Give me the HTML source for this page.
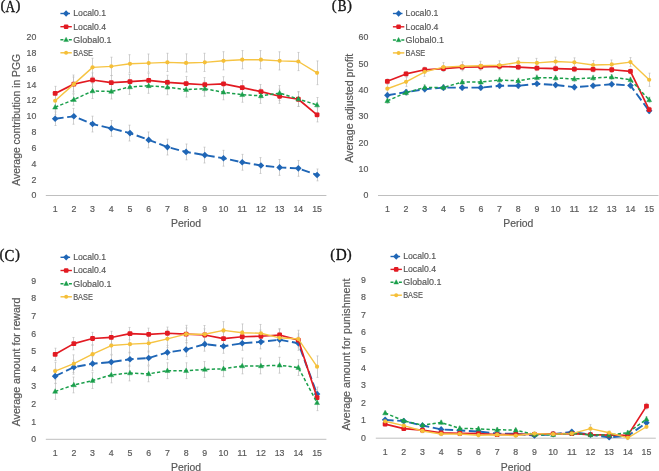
<!DOCTYPE html><html><head><meta charset="utf-8"><style>html,body{margin:0;padding:0;background:#fff;overflow:hidden}svg{display:block;will-change:transform}.t{font-family:"Liberation Sans",sans-serif;fill:#595959;stroke:#595959;stroke-width:0.2px}</style></head><body>
<svg width="659" height="471" viewBox="0 0 659 471">
<rect width="659" height="471" fill="#fff"/>
<text x="0.55" y="10.1" font-family='"Liberation Serif", serif' font-size="14.8" fill="#1a1a1a" stroke="#1a1a1a" stroke-width="0.35">(</text>
<text x="15.4" y="10.1" font-family='"Liberation Serif", serif' font-size="14.8" fill="#1a1a1a" stroke="#1a1a1a" stroke-width="0.35">)</text>
<text x="10.4" y="11.6" text-anchor="middle" font-family='"Liberation Serif", serif' font-size="16.5" fill="#111" stroke="#111" stroke-width="0.35" textLength="9.6" lengthAdjust="spacingAndGlyphs">A</text>
<text x="36.3" y="198.4" text-anchor="end" class="t" font-size="9.8" textLength="4.9" lengthAdjust="spacingAndGlyphs">0</text>
<text x="36.3" y="182.58" text-anchor="end" class="t" font-size="9.8" textLength="4.9" lengthAdjust="spacingAndGlyphs">2</text>
<text x="36.3" y="166.76" text-anchor="end" class="t" font-size="9.8" textLength="4.9" lengthAdjust="spacingAndGlyphs">4</text>
<text x="36.3" y="150.94" text-anchor="end" class="t" font-size="9.8" textLength="4.9" lengthAdjust="spacingAndGlyphs">6</text>
<text x="36.3" y="135.12" text-anchor="end" class="t" font-size="9.8" textLength="4.9" lengthAdjust="spacingAndGlyphs">8</text>
<text x="36.3" y="119.3" text-anchor="end" class="t" font-size="9.8" textLength="9.8" lengthAdjust="spacingAndGlyphs">10</text>
<text x="36.3" y="103.48" text-anchor="end" class="t" font-size="9.8" textLength="9.8" lengthAdjust="spacingAndGlyphs">12</text>
<text x="36.3" y="87.66" text-anchor="end" class="t" font-size="9.8" textLength="9.8" lengthAdjust="spacingAndGlyphs">14</text>
<text x="36.3" y="71.84" text-anchor="end" class="t" font-size="9.8" textLength="9.8" lengthAdjust="spacingAndGlyphs">16</text>
<text x="36.3" y="56.02" text-anchor="end" class="t" font-size="9.8" textLength="9.8" lengthAdjust="spacingAndGlyphs">18</text>
<text x="36.3" y="40.2" text-anchor="end" class="t" font-size="9.8" textLength="9.8" lengthAdjust="spacingAndGlyphs">20</text>
<line x1="45.8" y1="195.5" x2="326.4" y2="195.5" stroke="#bfbfbf" stroke-width="1"/>
<text x="55.15" y="211.5" text-anchor="middle" class="t" font-size="9.8" textLength="4.9" lengthAdjust="spacingAndGlyphs">1</text>
<text x="73.86" y="211.5" text-anchor="middle" class="t" font-size="9.8" textLength="4.9" lengthAdjust="spacingAndGlyphs">2</text>
<text x="92.57" y="211.5" text-anchor="middle" class="t" font-size="9.8" textLength="4.9" lengthAdjust="spacingAndGlyphs">3</text>
<text x="111.27" y="211.5" text-anchor="middle" class="t" font-size="9.8" textLength="4.9" lengthAdjust="spacingAndGlyphs">4</text>
<text x="129.98" y="211.5" text-anchor="middle" class="t" font-size="9.8" textLength="4.9" lengthAdjust="spacingAndGlyphs">5</text>
<text x="148.69" y="211.5" text-anchor="middle" class="t" font-size="9.8" textLength="4.9" lengthAdjust="spacingAndGlyphs">6</text>
<text x="167.39" y="211.5" text-anchor="middle" class="t" font-size="9.8" textLength="4.9" lengthAdjust="spacingAndGlyphs">7</text>
<text x="186.1" y="211.5" text-anchor="middle" class="t" font-size="9.8" textLength="4.9" lengthAdjust="spacingAndGlyphs">8</text>
<text x="204.81" y="211.5" text-anchor="middle" class="t" font-size="9.8" textLength="4.9" lengthAdjust="spacingAndGlyphs">9</text>
<text x="223.51" y="211.5" text-anchor="middle" class="t" font-size="9.8" textLength="9.8" lengthAdjust="spacingAndGlyphs">10</text>
<text x="242.22" y="211.5" text-anchor="middle" class="t" font-size="9.8" textLength="9.8" lengthAdjust="spacingAndGlyphs">11</text>
<text x="260.93" y="211.5" text-anchor="middle" class="t" font-size="9.8" textLength="9.8" lengthAdjust="spacingAndGlyphs">12</text>
<text x="279.63" y="211.5" text-anchor="middle" class="t" font-size="9.8" textLength="9.8" lengthAdjust="spacingAndGlyphs">13</text>
<text x="298.34" y="211.5" text-anchor="middle" class="t" font-size="9.8" textLength="9.8" lengthAdjust="spacingAndGlyphs">14</text>
<text x="317.05" y="211.5" text-anchor="middle" class="t" font-size="9.8" textLength="9.8" lengthAdjust="spacingAndGlyphs">15</text>
<text x="186.1" y="227.2" text-anchor="middle" class="t" font-size="10" textLength="30" lengthAdjust="spacingAndGlyphs">Period</text>
<text transform="translate(19.6 119.8) rotate(-90)" x="0" y="0" text-anchor="middle" class="t" font-size="10" textLength="132" lengthAdjust="spacingAndGlyphs">Average contribution in PGG</text>
<path d="M55.5 111.89V125.5M54.5 111.89H56.5M54.5 125.5H56.5" stroke="#bcbcbc" stroke-width="0.7" fill="none"/>
<path d="M73.5 108.41V124.23M72.5 108.41H74.5M72.5 124.23H74.5" stroke="#bcbcbc" stroke-width="0.7" fill="none"/>
<path d="M92.5 116.16V131.98M91.5 116.16H93.5M91.5 131.98H93.5" stroke="#bcbcbc" stroke-width="0.7" fill="none"/>
<path d="M111.5 120.51V136.33M110.5 120.51H112.5M110.5 136.33H112.5" stroke="#bcbcbc" stroke-width="0.7" fill="none"/>
<path d="M129.5 125.18V141M128.5 125.18H130.5M128.5 141H130.5" stroke="#bcbcbc" stroke-width="0.7" fill="none"/>
<path d="M148.5 131.98V147.8M147.5 131.98H149.5M147.5 147.8H149.5" stroke="#bcbcbc" stroke-width="0.7" fill="none"/>
<path d="M167.5 139.18V155M166.5 139.18H168.5M166.5 155H168.5" stroke="#bcbcbc" stroke-width="0.7" fill="none"/>
<path d="M186.5 144.01V159.83M185.5 144.01H187.5M185.5 159.83H187.5" stroke="#bcbcbc" stroke-width="0.7" fill="none"/>
<path d="M204.5 147.17V162.99M203.5 147.17H205.5M203.5 162.99H205.5" stroke="#bcbcbc" stroke-width="0.7" fill="none"/>
<path d="M223.5 150.33V166.15M222.5 150.33H224.5M222.5 166.15H224.5" stroke="#bcbcbc" stroke-width="0.7" fill="none"/>
<path d="M242.5 154.37V170.19M241.5 154.37H243.5M241.5 170.19H243.5" stroke="#bcbcbc" stroke-width="0.7" fill="none"/>
<path d="M260.5 157.61V173.43M259.5 157.61H261.5M259.5 173.43H261.5" stroke="#bcbcbc" stroke-width="0.7" fill="none"/>
<path d="M279.5 159.51V175.33M278.5 159.51H280.5M278.5 175.33H280.5" stroke="#bcbcbc" stroke-width="0.7" fill="none"/>
<path d="M298.5 160.46V176.28M297.5 160.46H299.5M297.5 176.28H299.5" stroke="#bcbcbc" stroke-width="0.7" fill="none"/>
<path d="M317.5 169V180.87M316.5 169H318.5M316.5 180.87H318.5" stroke="#bcbcbc" stroke-width="0.7" fill="none"/>
<path d="M55.5 86.34V100.58M54.5 86.34H56.5M54.5 100.58H56.5" stroke="#bcbcbc" stroke-width="0.7" fill="none"/>
<path d="M73.5 77.01V91.25M72.5 77.01H74.5M72.5 91.25H74.5" stroke="#bcbcbc" stroke-width="0.7" fill="none"/>
<path d="M92.5 72.9V87.13M91.5 72.9H93.5M91.5 87.13H93.5" stroke="#bcbcbc" stroke-width="0.7" fill="none"/>
<path d="M111.5 75.58V89.82M110.5 75.58H112.5M110.5 89.82H112.5" stroke="#bcbcbc" stroke-width="0.7" fill="none"/>
<path d="M129.5 74.48V88.72M128.5 74.48H130.5M128.5 88.72H130.5" stroke="#bcbcbc" stroke-width="0.7" fill="none"/>
<path d="M148.5 73.29V87.53M147.5 73.29H149.5M147.5 87.53H149.5" stroke="#bcbcbc" stroke-width="0.7" fill="none"/>
<path d="M167.5 75.27V89.51M166.5 75.27H168.5M166.5 89.51H168.5" stroke="#bcbcbc" stroke-width="0.7" fill="none"/>
<path d="M186.5 76.45V90.69M185.5 76.45H187.5M185.5 90.69H187.5" stroke="#bcbcbc" stroke-width="0.7" fill="none"/>
<path d="M204.5 77.64V91.88M203.5 77.64H205.5M203.5 91.88H205.5" stroke="#bcbcbc" stroke-width="0.7" fill="none"/>
<path d="M223.5 76.69V90.93M222.5 76.69H224.5M222.5 90.93H224.5" stroke="#bcbcbc" stroke-width="0.7" fill="none"/>
<path d="M242.5 80.57V94.81M241.5 80.57H243.5M241.5 94.81H243.5" stroke="#bcbcbc" stroke-width="0.7" fill="none"/>
<path d="M260.5 84.52V98.76M259.5 84.52H261.5M259.5 98.76H261.5" stroke="#bcbcbc" stroke-width="0.7" fill="none"/>
<path d="M279.5 89.11V103.35M278.5 89.11H280.5M278.5 103.35H280.5" stroke="#bcbcbc" stroke-width="0.7" fill="none"/>
<path d="M298.5 92.12V106.35M297.5 92.12H299.5M297.5 106.35H299.5" stroke="#bcbcbc" stroke-width="0.7" fill="none"/>
<path d="M317.5 107.7V121.94M316.5 107.7H318.5M316.5 121.94H318.5" stroke="#bcbcbc" stroke-width="0.7" fill="none"/>
<path d="M55.5 99.71V114.74M54.5 99.71H56.5M54.5 114.74H56.5" stroke="#bcbcbc" stroke-width="0.7" fill="none"/>
<path d="M73.5 94.09V105.17M72.5 94.09H74.5M72.5 105.17H74.5" stroke="#bcbcbc" stroke-width="0.7" fill="none"/>
<path d="M92.5 83.49V98.52M91.5 83.49H93.5M91.5 98.52H93.5" stroke="#bcbcbc" stroke-width="0.7" fill="none"/>
<path d="M111.5 83.97V99M110.5 83.97H112.5M110.5 99H112.5" stroke="#bcbcbc" stroke-width="0.7" fill="none"/>
<path d="M129.5 79.38V94.41M128.5 79.38H130.5M128.5 94.41H130.5" stroke="#bcbcbc" stroke-width="0.7" fill="none"/>
<path d="M148.5 78.27V93.3M147.5 78.27H149.5M147.5 93.3H149.5" stroke="#bcbcbc" stroke-width="0.7" fill="none"/>
<path d="M167.5 79.7V94.73M166.5 79.7H168.5M166.5 94.73H168.5" stroke="#bcbcbc" stroke-width="0.7" fill="none"/>
<path d="M186.5 82.07V97.1M185.5 82.07H187.5M185.5 97.1H187.5" stroke="#bcbcbc" stroke-width="0.7" fill="none"/>
<path d="M204.5 81.2V96.23M203.5 81.2H205.5M203.5 96.23H205.5" stroke="#bcbcbc" stroke-width="0.7" fill="none"/>
<path d="M223.5 84.76V99.79M222.5 84.76H224.5M222.5 99.79H224.5" stroke="#bcbcbc" stroke-width="0.7" fill="none"/>
<path d="M242.5 87.21V102.24M241.5 87.21H243.5M241.5 102.24H243.5" stroke="#bcbcbc" stroke-width="0.7" fill="none"/>
<path d="M260.5 88.32V103.35M259.5 88.32H261.5M259.5 103.35H261.5" stroke="#bcbcbc" stroke-width="0.7" fill="none"/>
<path d="M279.5 85.55V100.58M278.5 85.55H280.5M278.5 100.58H280.5" stroke="#bcbcbc" stroke-width="0.7" fill="none"/>
<path d="M298.5 91.48V106.51M297.5 91.48H299.5M297.5 106.51H299.5" stroke="#bcbcbc" stroke-width="0.7" fill="none"/>
<path d="M317.5 97.5V112.52M316.5 97.5H318.5M316.5 112.52H318.5" stroke="#bcbcbc" stroke-width="0.7" fill="none"/>
<path d="M55.5 91.64V109.83M54.5 91.64H56.5M54.5 109.83H56.5" stroke="#bcbcbc" stroke-width="0.7" fill="none"/>
<path d="M73.5 75.03V93.22M72.5 75.03H74.5M72.5 93.22H74.5" stroke="#bcbcbc" stroke-width="0.7" fill="none"/>
<path d="M92.5 58.26V76.45M91.5 58.26H93.5M91.5 76.45H93.5" stroke="#bcbcbc" stroke-width="0.7" fill="none"/>
<path d="M111.5 57.23V75.43M110.5 57.23H112.5M110.5 75.43H112.5" stroke="#bcbcbc" stroke-width="0.7" fill="none"/>
<path d="M129.5 54.7V72.9M128.5 54.7H130.5M128.5 72.9H130.5" stroke="#bcbcbc" stroke-width="0.7" fill="none"/>
<path d="M148.5 53.99V72.18M147.5 53.99H149.5M147.5 72.18H149.5" stroke="#bcbcbc" stroke-width="0.7" fill="none"/>
<path d="M167.5 53.28V71.47M166.5 53.28H168.5M166.5 71.47H168.5" stroke="#bcbcbc" stroke-width="0.7" fill="none"/>
<path d="M186.5 53.83V72.02M185.5 53.83H187.5M185.5 72.02H187.5" stroke="#bcbcbc" stroke-width="0.7" fill="none"/>
<path d="M204.5 53.28V71.47M203.5 53.28H205.5M203.5 71.47H205.5" stroke="#bcbcbc" stroke-width="0.7" fill="none"/>
<path d="M223.5 51.7V69.89M222.5 51.7H224.5M222.5 69.89H224.5" stroke="#bcbcbc" stroke-width="0.7" fill="none"/>
<path d="M242.5 50.59V68.78M241.5 50.59H243.5M241.5 68.78H243.5" stroke="#bcbcbc" stroke-width="0.7" fill="none"/>
<path d="M260.5 50.59V68.78M259.5 50.59H261.5M259.5 68.78H261.5" stroke="#bcbcbc" stroke-width="0.7" fill="none"/>
<path d="M279.5 51.78V69.97M278.5 51.78H280.5M278.5 69.97H280.5" stroke="#bcbcbc" stroke-width="0.7" fill="none"/>
<path d="M298.5 52.41V70.6M297.5 52.41H299.5M297.5 70.6H299.5" stroke="#bcbcbc" stroke-width="0.7" fill="none"/>
<path d="M317.5 60.95V84.68M316.5 60.95H318.5M316.5 84.68H318.5" stroke="#bcbcbc" stroke-width="0.7" fill="none"/>
<polyline points="55.15,118.69 73.86,116.32 92.57,124.07 111.27,128.42 129.98,133.09 148.69,139.89 167.39,147.09 186.1,151.92 204.81,155.08 223.51,158.24 242.22,162.28 260.93,165.52 279.63,167.42 298.34,168.37 317.05,174.93" fill="none" stroke="#1f66b6" stroke-width="1.9" stroke-dasharray="8.5 3.6" stroke-linejoin="round"/>
<path d="M55.15 115.39L58.45 118.69L55.15 121.99L51.85 118.69Z" fill="#1f66b6"/>
<path d="M73.86 113.02L77.16 116.32L73.86 119.62L70.56 116.32Z" fill="#1f66b6"/>
<path d="M92.57 120.77L95.87 124.07L92.57 127.37L89.27 124.07Z" fill="#1f66b6"/>
<path d="M111.27 125.12L114.57 128.42L111.27 131.72L107.97 128.42Z" fill="#1f66b6"/>
<path d="M129.98 129.79L133.28 133.09L129.98 136.39L126.68 133.09Z" fill="#1f66b6"/>
<path d="M148.69 136.59L151.99 139.89L148.69 143.19L145.39 139.89Z" fill="#1f66b6"/>
<path d="M167.39 143.79L170.69 147.09L167.39 150.39L164.09 147.09Z" fill="#1f66b6"/>
<path d="M186.1 148.62L189.4 151.92L186.1 155.22L182.8 151.92Z" fill="#1f66b6"/>
<path d="M204.81 151.78L208.11 155.08L204.81 158.38L201.51 155.08Z" fill="#1f66b6"/>
<path d="M223.51 154.94L226.81 158.24L223.51 161.54L220.21 158.24Z" fill="#1f66b6"/>
<path d="M242.22 158.98L245.52 162.28L242.22 165.58L238.92 162.28Z" fill="#1f66b6"/>
<path d="M260.93 162.22L264.23 165.52L260.93 168.82L257.63 165.52Z" fill="#1f66b6"/>
<path d="M279.63 164.12L282.93 167.42L279.63 170.72L276.33 167.42Z" fill="#1f66b6"/>
<path d="M298.34 165.07L301.64 168.37L298.34 171.67L295.04 168.37Z" fill="#1f66b6"/>
<path d="M317.05 171.63L320.35 174.93L317.05 178.23L313.75 174.93Z" fill="#1f66b6"/>
<polyline points="55.15,93.46 73.86,84.13 92.57,80.01 111.27,82.7 129.98,81.6 148.69,80.41 167.39,82.39 186.1,83.57 204.81,84.76 223.51,83.81 242.22,87.69 260.93,91.64 279.63,96.23 298.34,99.24 317.05,114.82" fill="none" stroke="#e21a22" stroke-width="1.7" stroke-linejoin="round"/>
<rect x="52.75" y="91.06" width="4.8" height="4.8" rx="1.1" fill="#e21a22"/>
<rect x="71.46" y="81.73" width="4.8" height="4.8" rx="1.1" fill="#e21a22"/>
<rect x="90.17" y="77.61" width="4.8" height="4.8" rx="1.1" fill="#e21a22"/>
<rect x="108.87" y="80.3" width="4.8" height="4.8" rx="1.1" fill="#e21a22"/>
<rect x="127.58" y="79.2" width="4.8" height="4.8" rx="1.1" fill="#e21a22"/>
<rect x="146.29" y="78.01" width="4.8" height="4.8" rx="1.1" fill="#e21a22"/>
<rect x="164.99" y="79.99" width="4.8" height="4.8" rx="1.1" fill="#e21a22"/>
<rect x="183.7" y="81.17" width="4.8" height="4.8" rx="1.1" fill="#e21a22"/>
<rect x="202.41" y="82.36" width="4.8" height="4.8" rx="1.1" fill="#e21a22"/>
<rect x="221.11" y="81.41" width="4.8" height="4.8" rx="1.1" fill="#e21a22"/>
<rect x="239.82" y="85.29" width="4.8" height="4.8" rx="1.1" fill="#e21a22"/>
<rect x="258.53" y="89.24" width="4.8" height="4.8" rx="1.1" fill="#e21a22"/>
<rect x="277.23" y="93.83" width="4.8" height="4.8" rx="1.1" fill="#e21a22"/>
<rect x="295.94" y="96.84" width="4.8" height="4.8" rx="1.1" fill="#e21a22"/>
<rect x="314.65" y="112.42" width="4.8" height="4.8" rx="1.1" fill="#e21a22"/>
<polyline points="55.15,107.22 73.86,99.63 92.57,91.01 111.27,91.48 129.98,86.9 148.69,85.79 167.39,87.21 186.1,89.59 204.81,88.72 223.51,92.27 242.22,94.73 260.93,95.83 279.63,93.07 298.34,99 317.05,105.01" fill="none" stroke="#1a9f4b" stroke-width="1.5" stroke-dasharray="3.3 2.2" stroke-linejoin="round"/>
<path d="M55.15 104.46L57.65 109.06L52.65 109.06Z" fill="#1a9f4b" stroke="#1a9f4b" stroke-width="0.4" stroke-linejoin="round"/>
<path d="M73.86 96.87L76.36 101.47L71.36 101.47Z" fill="#1a9f4b" stroke="#1a9f4b" stroke-width="0.4" stroke-linejoin="round"/>
<path d="M92.57 88.25L95.07 92.85L90.07 92.85Z" fill="#1a9f4b" stroke="#1a9f4b" stroke-width="0.4" stroke-linejoin="round"/>
<path d="M111.27 88.72L113.77 93.32L108.77 93.32Z" fill="#1a9f4b" stroke="#1a9f4b" stroke-width="0.4" stroke-linejoin="round"/>
<path d="M129.98 84.14L132.48 88.74L127.48 88.74Z" fill="#1a9f4b" stroke="#1a9f4b" stroke-width="0.4" stroke-linejoin="round"/>
<path d="M148.69 83.03L151.19 87.63L146.19 87.63Z" fill="#1a9f4b" stroke="#1a9f4b" stroke-width="0.4" stroke-linejoin="round"/>
<path d="M167.39 84.45L169.89 89.05L164.89 89.05Z" fill="#1a9f4b" stroke="#1a9f4b" stroke-width="0.4" stroke-linejoin="round"/>
<path d="M186.1 86.83L188.6 91.43L183.6 91.43Z" fill="#1a9f4b" stroke="#1a9f4b" stroke-width="0.4" stroke-linejoin="round"/>
<path d="M204.81 85.95L207.31 90.56L202.31 90.56Z" fill="#1a9f4b" stroke="#1a9f4b" stroke-width="0.4" stroke-linejoin="round"/>
<path d="M223.51 89.51L226.01 94.11L221.01 94.11Z" fill="#1a9f4b" stroke="#1a9f4b" stroke-width="0.4" stroke-linejoin="round"/>
<path d="M242.22 91.97L244.72 96.57L239.72 96.57Z" fill="#1a9f4b" stroke="#1a9f4b" stroke-width="0.4" stroke-linejoin="round"/>
<path d="M260.93 93.07L263.43 97.67L258.43 97.67Z" fill="#1a9f4b" stroke="#1a9f4b" stroke-width="0.4" stroke-linejoin="round"/>
<path d="M279.63 90.31L282.13 94.91L277.13 94.91Z" fill="#1a9f4b" stroke="#1a9f4b" stroke-width="0.4" stroke-linejoin="round"/>
<path d="M298.34 96.24L300.84 100.84L295.84 100.84Z" fill="#1a9f4b" stroke="#1a9f4b" stroke-width="0.4" stroke-linejoin="round"/>
<path d="M317.05 102.25L319.55 106.85L314.55 106.85Z" fill="#1a9f4b" stroke="#1a9f4b" stroke-width="0.4" stroke-linejoin="round"/>
<polyline points="55.15,100.74 73.86,84.13 92.57,67.36 111.27,66.33 129.98,63.8 148.69,63.09 167.39,62.37 186.1,62.93 204.81,62.37 223.51,60.79 242.22,59.69 260.93,59.69 279.63,60.87 298.34,61.5 317.05,72.82" fill="none" stroke="#f6c443" stroke-width="1.4" stroke-linejoin="round"/>
<circle cx="55.15" cy="100.74" r="2.1" fill="#f5bf38"/>
<circle cx="73.86" cy="84.13" r="2.1" fill="#f5bf38"/>
<circle cx="92.57" cy="67.36" r="2.1" fill="#f5bf38"/>
<circle cx="111.27" cy="66.33" r="2.1" fill="#f5bf38"/>
<circle cx="129.98" cy="63.8" r="2.1" fill="#f5bf38"/>
<circle cx="148.69" cy="63.09" r="2.1" fill="#f5bf38"/>
<circle cx="167.39" cy="62.37" r="2.1" fill="#f5bf38"/>
<circle cx="186.1" cy="62.93" r="2.1" fill="#f5bf38"/>
<circle cx="204.81" cy="62.37" r="2.1" fill="#f5bf38"/>
<circle cx="223.51" cy="60.79" r="2.1" fill="#f5bf38"/>
<circle cx="242.22" cy="59.69" r="2.1" fill="#f5bf38"/>
<circle cx="260.93" cy="59.69" r="2.1" fill="#f5bf38"/>
<circle cx="279.63" cy="60.87" r="2.1" fill="#f5bf38"/>
<circle cx="298.34" cy="61.5" r="2.1" fill="#f5bf38"/>
<circle cx="317.05" cy="72.82" r="2.1" fill="#f5bf38"/>
<line x1="60.4" y1="13.5" x2="70" y2="13.5" stroke="#1f66b6" stroke-width="1.4"/>
<path d="M66.1 10.37L69.23 13.5L66.1 16.63L62.96 13.5Z" fill="#1f66b6"/>
<text x="73.3" y="16.4" class="t" font-size="9.7" textLength="32.8" lengthAdjust="spacingAndGlyphs">Local0.1</text>
<line x1="60.4" y1="26.7" x2="71.8" y2="26.7" stroke="#e21a22" stroke-width="1.4"/>
<rect x="63.82" y="24.42" width="4.56" height="4.56" rx="1.04" fill="#e21a22"/>
<text x="73.3" y="29.6" class="t" font-size="9.7" textLength="32.8" lengthAdjust="spacingAndGlyphs">Local0.4</text>
<path d="M60.4 39.8H63.4M68.8 39.8H71.8" stroke="#1a9f4b" stroke-width="1.4"/>
<path d="M66.1 37.18L68.47 41.55L63.72 41.55Z" fill="#1a9f4b" stroke="#1a9f4b" stroke-width="0.4" stroke-linejoin="round"/>
<text x="73.3" y="42.7" class="t" font-size="9.7" textLength="38.3" lengthAdjust="spacingAndGlyphs">Global0.1</text>
<line x1="60.4" y1="52.8" x2="71.8" y2="52.8" stroke="#f5bf38" stroke-width="1.4"/>
<circle cx="66.1" cy="52.8" r="1.99" fill="#f5bf38"/>
<text x="73.3" y="55.7" class="t" font-size="9.7" textLength="19.7" lengthAdjust="spacingAndGlyphs">BASE</text>
<text x="331.85" y="10.1" font-family='"Liberation Serif", serif' font-size="14.8" fill="#1a1a1a" stroke="#1a1a1a" stroke-width="0.35">(</text>
<text x="347.1" y="10.1" font-family='"Liberation Serif", serif' font-size="14.8" fill="#1a1a1a" stroke="#1a1a1a" stroke-width="0.35">)</text>
<text x="342.1" y="11" text-anchor="middle" font-family='"Liberation Serif", serif' font-size="16.5" fill="#111" stroke="#111" stroke-width="0.35" textLength="8.8" lengthAdjust="spacingAndGlyphs">B</text>
<text x="368.4" y="198.4" text-anchor="end" class="t" font-size="9.8" textLength="4.9" lengthAdjust="spacingAndGlyphs">0</text>
<text x="368.4" y="172.03" text-anchor="end" class="t" font-size="9.8" textLength="9.8" lengthAdjust="spacingAndGlyphs">10</text>
<text x="368.4" y="145.67" text-anchor="end" class="t" font-size="9.8" textLength="9.8" lengthAdjust="spacingAndGlyphs">20</text>
<text x="368.4" y="119.3" text-anchor="end" class="t" font-size="9.8" textLength="9.8" lengthAdjust="spacingAndGlyphs">30</text>
<text x="368.4" y="92.93" text-anchor="end" class="t" font-size="9.8" textLength="9.8" lengthAdjust="spacingAndGlyphs">40</text>
<text x="368.4" y="66.57" text-anchor="end" class="t" font-size="9.8" textLength="9.8" lengthAdjust="spacingAndGlyphs">50</text>
<text x="368.4" y="40.2" text-anchor="end" class="t" font-size="9.8" textLength="9.8" lengthAdjust="spacingAndGlyphs">60</text>
<line x1="378" y1="195.5" x2="658.5" y2="195.5" stroke="#bfbfbf" stroke-width="1"/>
<text x="387.35" y="211.5" text-anchor="middle" class="t" font-size="9.8" textLength="4.9" lengthAdjust="spacingAndGlyphs">1</text>
<text x="406.05" y="211.5" text-anchor="middle" class="t" font-size="9.8" textLength="4.9" lengthAdjust="spacingAndGlyphs">2</text>
<text x="424.75" y="211.5" text-anchor="middle" class="t" font-size="9.8" textLength="4.9" lengthAdjust="spacingAndGlyphs">3</text>
<text x="443.45" y="211.5" text-anchor="middle" class="t" font-size="9.8" textLength="4.9" lengthAdjust="spacingAndGlyphs">4</text>
<text x="462.15" y="211.5" text-anchor="middle" class="t" font-size="9.8" textLength="4.9" lengthAdjust="spacingAndGlyphs">5</text>
<text x="480.85" y="211.5" text-anchor="middle" class="t" font-size="9.8" textLength="4.9" lengthAdjust="spacingAndGlyphs">6</text>
<text x="499.55" y="211.5" text-anchor="middle" class="t" font-size="9.8" textLength="4.9" lengthAdjust="spacingAndGlyphs">7</text>
<text x="518.25" y="211.5" text-anchor="middle" class="t" font-size="9.8" textLength="4.9" lengthAdjust="spacingAndGlyphs">8</text>
<text x="536.95" y="211.5" text-anchor="middle" class="t" font-size="9.8" textLength="4.9" lengthAdjust="spacingAndGlyphs">9</text>
<text x="555.65" y="211.5" text-anchor="middle" class="t" font-size="9.8" textLength="9.8" lengthAdjust="spacingAndGlyphs">10</text>
<text x="574.35" y="211.5" text-anchor="middle" class="t" font-size="9.8" textLength="9.8" lengthAdjust="spacingAndGlyphs">11</text>
<text x="593.05" y="211.5" text-anchor="middle" class="t" font-size="9.8" textLength="9.8" lengthAdjust="spacingAndGlyphs">12</text>
<text x="611.75" y="211.5" text-anchor="middle" class="t" font-size="9.8" textLength="9.8" lengthAdjust="spacingAndGlyphs">13</text>
<text x="630.45" y="211.5" text-anchor="middle" class="t" font-size="9.8" textLength="9.8" lengthAdjust="spacingAndGlyphs">14</text>
<text x="649.15" y="211.5" text-anchor="middle" class="t" font-size="9.8" textLength="9.8" lengthAdjust="spacingAndGlyphs">15</text>
<text x="518.25" y="227.2" text-anchor="middle" class="t" font-size="10" textLength="30" lengthAdjust="spacingAndGlyphs">Period</text>
<text transform="translate(352.6 108.3) rotate(-90)" x="0" y="0" text-anchor="middle" class="t" font-size="10" textLength="109" lengthAdjust="spacingAndGlyphs">Average adjusted profit</text>
<path d="M387.5 92.67V97.94M386.5 92.67H388.5M386.5 97.94H388.5" stroke="#bcbcbc" stroke-width="0.7" fill="none"/>
<path d="M406.5 89.51V94.78M405.5 89.51H407.5M405.5 94.78H407.5" stroke="#bcbcbc" stroke-width="0.7" fill="none"/>
<path d="M424.5 86.61V91.88M423.5 86.61H425.5M423.5 91.88H425.5" stroke="#bcbcbc" stroke-width="0.7" fill="none"/>
<path d="M443.5 85.02V90.3M442.5 85.02H444.5M442.5 90.3H444.5" stroke="#bcbcbc" stroke-width="0.7" fill="none"/>
<path d="M462.5 85.02V90.3M461.5 85.02H463.5M461.5 90.3H463.5" stroke="#bcbcbc" stroke-width="0.7" fill="none"/>
<path d="M480.5 85.02V90.3M479.5 85.02H481.5M479.5 90.3H481.5" stroke="#bcbcbc" stroke-width="0.7" fill="none"/>
<path d="M499.5 83.18V88.45M498.5 83.18H500.5M498.5 88.45H500.5" stroke="#bcbcbc" stroke-width="0.7" fill="none"/>
<path d="M518.5 83.18V88.45M517.5 83.18H519.5M517.5 88.45H519.5" stroke="#bcbcbc" stroke-width="0.7" fill="none"/>
<path d="M536.5 81.07V86.34M535.5 81.07H537.5M535.5 86.34H537.5" stroke="#bcbcbc" stroke-width="0.7" fill="none"/>
<path d="M555.5 82.39V87.66M554.5 82.39H556.5M554.5 87.66H556.5" stroke="#bcbcbc" stroke-width="0.7" fill="none"/>
<path d="M574.5 84.5V89.77M573.5 84.5H575.5M573.5 89.77H575.5" stroke="#bcbcbc" stroke-width="0.7" fill="none"/>
<path d="M593.5 83.18V88.45M592.5 83.18H594.5M592.5 88.45H594.5" stroke="#bcbcbc" stroke-width="0.7" fill="none"/>
<path d="M611.5 81.6V86.87M610.5 81.6H612.5M610.5 86.87H612.5" stroke="#bcbcbc" stroke-width="0.7" fill="none"/>
<path d="M630.5 82.91V88.19M629.5 82.91H631.5M629.5 88.19H631.5" stroke="#bcbcbc" stroke-width="0.7" fill="none"/>
<path d="M649.5 108.23V113.5M648.5 108.23H650.5M648.5 113.5H650.5" stroke="#bcbcbc" stroke-width="0.7" fill="none"/>
<path d="M387.5 78.83V83.84M386.5 78.83H388.5M386.5 83.84H388.5" stroke="#bcbcbc" stroke-width="0.7" fill="none"/>
<path d="M406.5 71.44V76.45M405.5 71.44H407.5M405.5 76.45H407.5" stroke="#bcbcbc" stroke-width="0.7" fill="none"/>
<path d="M424.5 67.23V72.24M423.5 67.23H425.5M423.5 72.24H425.5" stroke="#bcbcbc" stroke-width="0.7" fill="none"/>
<path d="M443.5 66.17V71.18M442.5 66.17H444.5M442.5 71.18H444.5" stroke="#bcbcbc" stroke-width="0.7" fill="none"/>
<path d="M462.5 64.59V69.6M461.5 64.59H463.5M461.5 69.6H463.5" stroke="#bcbcbc" stroke-width="0.7" fill="none"/>
<path d="M480.5 64.33V69.34M479.5 64.33H481.5M479.5 69.34H481.5" stroke="#bcbcbc" stroke-width="0.7" fill="none"/>
<path d="M499.5 63.8V68.81M498.5 63.8H500.5M498.5 68.81H500.5" stroke="#bcbcbc" stroke-width="0.7" fill="none"/>
<path d="M518.5 64.59V69.6M517.5 64.59H519.5M517.5 69.6H519.5" stroke="#bcbcbc" stroke-width="0.7" fill="none"/>
<path d="M536.5 65.64V70.65M535.5 65.64H537.5M535.5 70.65H537.5" stroke="#bcbcbc" stroke-width="0.7" fill="none"/>
<path d="M555.5 66.17V71.18M554.5 66.17H556.5M554.5 71.18H556.5" stroke="#bcbcbc" stroke-width="0.7" fill="none"/>
<path d="M574.5 66.7V71.71M573.5 66.7H575.5M573.5 71.71H575.5" stroke="#bcbcbc" stroke-width="0.7" fill="none"/>
<path d="M593.5 66.96V71.97M592.5 66.96H594.5M592.5 71.97H594.5" stroke="#bcbcbc" stroke-width="0.7" fill="none"/>
<path d="M611.5 67.23V72.24M610.5 67.23H612.5M610.5 72.24H612.5" stroke="#bcbcbc" stroke-width="0.7" fill="none"/>
<path d="M630.5 68.81V73.82M629.5 68.81H631.5M629.5 73.82H631.5" stroke="#bcbcbc" stroke-width="0.7" fill="none"/>
<path d="M649.5 107.04V112.05M648.5 107.04H650.5M648.5 112.05H650.5" stroke="#bcbcbc" stroke-width="0.7" fill="none"/>
<path d="M387.5 98.21V103.48M386.5 98.21H388.5M386.5 103.48H388.5" stroke="#bcbcbc" stroke-width="0.7" fill="none"/>
<path d="M406.5 90.03V95.31M405.5 90.03H407.5M405.5 95.31H407.5" stroke="#bcbcbc" stroke-width="0.7" fill="none"/>
<path d="M424.5 84.76V90.03M423.5 84.76H425.5M423.5 90.03H425.5" stroke="#bcbcbc" stroke-width="0.7" fill="none"/>
<path d="M443.5 84.76V90.03M442.5 84.76H444.5M442.5 90.03H444.5" stroke="#bcbcbc" stroke-width="0.7" fill="none"/>
<path d="M462.5 79.49V84.76M461.5 79.49H463.5M461.5 84.76H463.5" stroke="#bcbcbc" stroke-width="0.7" fill="none"/>
<path d="M480.5 79.49V84.76M479.5 79.49H481.5M479.5 84.76H481.5" stroke="#bcbcbc" stroke-width="0.7" fill="none"/>
<path d="M499.5 77.38V82.65M498.5 77.38H500.5M498.5 82.65H500.5" stroke="#bcbcbc" stroke-width="0.7" fill="none"/>
<path d="M518.5 78.17V83.44M517.5 78.17H519.5M517.5 83.44H519.5" stroke="#bcbcbc" stroke-width="0.7" fill="none"/>
<path d="M536.5 75V80.28M535.5 75H537.5M535.5 80.28H537.5" stroke="#bcbcbc" stroke-width="0.7" fill="none"/>
<path d="M555.5 75.27V80.54M554.5 75.27H556.5M554.5 80.54H556.5" stroke="#bcbcbc" stroke-width="0.7" fill="none"/>
<path d="M574.5 76.32V81.6M573.5 76.32H575.5M573.5 81.6H575.5" stroke="#bcbcbc" stroke-width="0.7" fill="none"/>
<path d="M593.5 75.27V80.54M592.5 75.27H594.5M592.5 80.54H594.5" stroke="#bcbcbc" stroke-width="0.7" fill="none"/>
<path d="M611.5 74.48V79.75M610.5 74.48H612.5M610.5 79.75H612.5" stroke="#bcbcbc" stroke-width="0.7" fill="none"/>
<path d="M630.5 77.11V82.39M629.5 77.11H631.5M629.5 82.39H631.5" stroke="#bcbcbc" stroke-width="0.7" fill="none"/>
<path d="M649.5 97.15V102.43M648.5 97.15H650.5M648.5 102.43H650.5" stroke="#bcbcbc" stroke-width="0.7" fill="none"/>
<path d="M387.5 84.23V93.2M386.5 84.23H388.5M386.5 93.2H388.5" stroke="#bcbcbc" stroke-width="0.7" fill="none"/>
<path d="M406.5 77.38V86.34M405.5 77.38H407.5M405.5 86.34H407.5" stroke="#bcbcbc" stroke-width="0.7" fill="none"/>
<path d="M424.5 67.36V76.32M423.5 67.36H425.5M423.5 76.32H425.5" stroke="#bcbcbc" stroke-width="0.7" fill="none"/>
<path d="M443.5 62.61V71.58M442.5 62.61H444.5M442.5 71.58H444.5" stroke="#bcbcbc" stroke-width="0.7" fill="none"/>
<path d="M462.5 61.82V70.79M461.5 61.82H463.5M461.5 70.79H463.5" stroke="#bcbcbc" stroke-width="0.7" fill="none"/>
<path d="M480.5 61.29V70.26M479.5 61.29H481.5M479.5 70.26H481.5" stroke="#bcbcbc" stroke-width="0.7" fill="none"/>
<path d="M499.5 60.77V69.73M498.5 60.77H500.5M498.5 69.73H500.5" stroke="#bcbcbc" stroke-width="0.7" fill="none"/>
<path d="M518.5 57.87V66.83M517.5 57.87H519.5M517.5 66.83H519.5" stroke="#bcbcbc" stroke-width="0.7" fill="none"/>
<path d="M536.5 58.39V67.36M535.5 58.39H537.5M535.5 67.36H537.5" stroke="#bcbcbc" stroke-width="0.7" fill="none"/>
<path d="M555.5 57.08V66.04M554.5 57.08H556.5M554.5 66.04H556.5" stroke="#bcbcbc" stroke-width="0.7" fill="none"/>
<path d="M574.5 57.87V66.83M573.5 57.87H575.5M573.5 66.83H575.5" stroke="#bcbcbc" stroke-width="0.7" fill="none"/>
<path d="M593.5 60.5V69.47M592.5 60.5H594.5M592.5 69.47H594.5" stroke="#bcbcbc" stroke-width="0.7" fill="none"/>
<path d="M611.5 59.98V68.94M610.5 59.98H612.5M610.5 68.94H612.5" stroke="#bcbcbc" stroke-width="0.7" fill="none"/>
<path d="M630.5 57.6V66.57M629.5 57.6H631.5M629.5 66.57H631.5" stroke="#bcbcbc" stroke-width="0.7" fill="none"/>
<path d="M649.5 73.16V86.34M648.5 73.16H650.5M648.5 86.34H650.5" stroke="#bcbcbc" stroke-width="0.7" fill="none"/>
<polyline points="387.35,95.31 406.05,92.14 424.75,89.24 443.45,87.66 462.15,87.66 480.85,87.66 499.55,85.81 518.25,85.81 536.95,83.71 555.65,85.02 574.35,87.13 593.05,85.81 611.75,84.23 630.45,85.55 649.15,110.86" fill="none" stroke="#1f66b6" stroke-width="1.9" stroke-dasharray="8.5 3.6" stroke-linejoin="round"/>
<path d="M387.35 92.01L390.65 95.31L387.35 98.61L384.05 95.31Z" fill="#1f66b6"/>
<path d="M406.05 88.84L409.35 92.14L406.05 95.44L402.75 92.14Z" fill="#1f66b6"/>
<path d="M424.75 85.94L428.05 89.24L424.75 92.54L421.45 89.24Z" fill="#1f66b6"/>
<path d="M443.45 84.36L446.75 87.66L443.45 90.96L440.15 87.66Z" fill="#1f66b6"/>
<path d="M462.15 84.36L465.45 87.66L462.15 90.96L458.85 87.66Z" fill="#1f66b6"/>
<path d="M480.85 84.36L484.15 87.66L480.85 90.96L477.55 87.66Z" fill="#1f66b6"/>
<path d="M499.55 82.51L502.85 85.81L499.55 89.11L496.25 85.81Z" fill="#1f66b6"/>
<path d="M518.25 82.51L521.55 85.81L518.25 89.11L514.95 85.81Z" fill="#1f66b6"/>
<path d="M536.95 80.41L540.25 83.71L536.95 87.01L533.65 83.71Z" fill="#1f66b6"/>
<path d="M555.65 81.72L558.95 85.02L555.65 88.32L552.35 85.02Z" fill="#1f66b6"/>
<path d="M574.35 83.83L577.65 87.13L574.35 90.43L571.05 87.13Z" fill="#1f66b6"/>
<path d="M593.05 82.51L596.35 85.81L593.05 89.11L589.75 85.81Z" fill="#1f66b6"/>
<path d="M611.75 80.93L615.05 84.23L611.75 87.53L608.45 84.23Z" fill="#1f66b6"/>
<path d="M630.45 82.25L633.75 85.55L630.45 88.85L627.15 85.55Z" fill="#1f66b6"/>
<path d="M649.15 107.56L652.45 110.86L649.15 114.16L645.85 110.86Z" fill="#1f66b6"/>
<polyline points="387.35,81.33 406.05,73.95 424.75,69.73 443.45,68.68 462.15,67.09 480.85,66.83 499.55,66.3 518.25,67.09 536.95,68.15 555.65,68.68 574.35,69.2 593.05,69.47 611.75,69.73 630.45,71.31 649.15,109.54" fill="none" stroke="#e21a22" stroke-width="1.7" stroke-linejoin="round"/>
<rect x="384.95" y="78.93" width="4.8" height="4.8" rx="1.1" fill="#e21a22"/>
<rect x="403.65" y="71.55" width="4.8" height="4.8" rx="1.1" fill="#e21a22"/>
<rect x="422.35" y="67.33" width="4.8" height="4.8" rx="1.1" fill="#e21a22"/>
<rect x="441.05" y="66.28" width="4.8" height="4.8" rx="1.1" fill="#e21a22"/>
<rect x="459.75" y="64.69" width="4.8" height="4.8" rx="1.1" fill="#e21a22"/>
<rect x="478.45" y="64.43" width="4.8" height="4.8" rx="1.1" fill="#e21a22"/>
<rect x="497.15" y="63.9" width="4.8" height="4.8" rx="1.1" fill="#e21a22"/>
<rect x="515.85" y="64.69" width="4.8" height="4.8" rx="1.1" fill="#e21a22"/>
<rect x="534.55" y="65.75" width="4.8" height="4.8" rx="1.1" fill="#e21a22"/>
<rect x="553.25" y="66.28" width="4.8" height="4.8" rx="1.1" fill="#e21a22"/>
<rect x="571.95" y="66.8" width="4.8" height="4.8" rx="1.1" fill="#e21a22"/>
<rect x="590.65" y="67.07" width="4.8" height="4.8" rx="1.1" fill="#e21a22"/>
<rect x="609.35" y="67.33" width="4.8" height="4.8" rx="1.1" fill="#e21a22"/>
<rect x="628.05" y="68.91" width="4.8" height="4.8" rx="1.1" fill="#e21a22"/>
<rect x="646.75" y="107.14" width="4.8" height="4.8" rx="1.1" fill="#e21a22"/>
<polyline points="387.35,100.84 406.05,92.67 424.75,87.4 443.45,87.4 462.15,82.12 480.85,82.12 499.55,80.01 518.25,80.81 536.95,77.64 555.65,77.9 574.35,78.96 593.05,77.9 611.75,77.11 630.45,79.75 649.15,99.79" fill="none" stroke="#1a9f4b" stroke-width="1.5" stroke-dasharray="3.3 2.2" stroke-linejoin="round"/>
<path d="M387.35 98.08L389.85 102.68L384.85 102.68Z" fill="#1a9f4b" stroke="#1a9f4b" stroke-width="0.4" stroke-linejoin="round"/>
<path d="M406.05 89.91L408.55 94.51L403.55 94.51Z" fill="#1a9f4b" stroke="#1a9f4b" stroke-width="0.4" stroke-linejoin="round"/>
<path d="M424.75 84.64L427.25 89.24L422.25 89.24Z" fill="#1a9f4b" stroke="#1a9f4b" stroke-width="0.4" stroke-linejoin="round"/>
<path d="M443.45 84.64L445.95 89.24L440.95 89.24Z" fill="#1a9f4b" stroke="#1a9f4b" stroke-width="0.4" stroke-linejoin="round"/>
<path d="M462.15 79.36L464.65 83.96L459.65 83.96Z" fill="#1a9f4b" stroke="#1a9f4b" stroke-width="0.4" stroke-linejoin="round"/>
<path d="M480.85 79.36L483.35 83.96L478.35 83.96Z" fill="#1a9f4b" stroke="#1a9f4b" stroke-width="0.4" stroke-linejoin="round"/>
<path d="M499.55 77.25L502.05 81.85L497.05 81.85Z" fill="#1a9f4b" stroke="#1a9f4b" stroke-width="0.4" stroke-linejoin="round"/>
<path d="M518.25 78.05L520.75 82.65L515.75 82.65Z" fill="#1a9f4b" stroke="#1a9f4b" stroke-width="0.4" stroke-linejoin="round"/>
<path d="M536.95 74.88L539.45 79.48L534.45 79.48Z" fill="#1a9f4b" stroke="#1a9f4b" stroke-width="0.4" stroke-linejoin="round"/>
<path d="M555.65 75.14L558.15 79.74L553.15 79.74Z" fill="#1a9f4b" stroke="#1a9f4b" stroke-width="0.4" stroke-linejoin="round"/>
<path d="M574.35 76.2L576.85 80.8L571.85 80.8Z" fill="#1a9f4b" stroke="#1a9f4b" stroke-width="0.4" stroke-linejoin="round"/>
<path d="M593.05 75.14L595.55 79.74L590.55 79.74Z" fill="#1a9f4b" stroke="#1a9f4b" stroke-width="0.4" stroke-linejoin="round"/>
<path d="M611.75 74.35L614.25 78.95L609.25 78.95Z" fill="#1a9f4b" stroke="#1a9f4b" stroke-width="0.4" stroke-linejoin="round"/>
<path d="M630.45 76.99L632.95 81.59L627.95 81.59Z" fill="#1a9f4b" stroke="#1a9f4b" stroke-width="0.4" stroke-linejoin="round"/>
<path d="M649.15 97.03L651.65 101.63L646.65 101.63Z" fill="#1a9f4b" stroke="#1a9f4b" stroke-width="0.4" stroke-linejoin="round"/>
<polyline points="387.35,88.72 406.05,81.86 424.75,71.84 443.45,67.09 462.15,66.3 480.85,65.78 499.55,65.25 518.25,62.35 536.95,62.88 555.65,61.56 574.35,62.35 593.05,64.99 611.75,64.46 630.45,62.08 649.15,79.75" fill="none" stroke="#f6c443" stroke-width="1.4" stroke-linejoin="round"/>
<circle cx="387.35" cy="88.72" r="2.1" fill="#f5bf38"/>
<circle cx="406.05" cy="81.86" r="2.1" fill="#f5bf38"/>
<circle cx="424.75" cy="71.84" r="2.1" fill="#f5bf38"/>
<circle cx="443.45" cy="67.09" r="2.1" fill="#f5bf38"/>
<circle cx="462.15" cy="66.3" r="2.1" fill="#f5bf38"/>
<circle cx="480.85" cy="65.78" r="2.1" fill="#f5bf38"/>
<circle cx="499.55" cy="65.25" r="2.1" fill="#f5bf38"/>
<circle cx="518.25" cy="62.35" r="2.1" fill="#f5bf38"/>
<circle cx="536.95" cy="62.88" r="2.1" fill="#f5bf38"/>
<circle cx="555.65" cy="61.56" r="2.1" fill="#f5bf38"/>
<circle cx="574.35" cy="62.35" r="2.1" fill="#f5bf38"/>
<circle cx="593.05" cy="64.99" r="2.1" fill="#f5bf38"/>
<circle cx="611.75" cy="64.46" r="2.1" fill="#f5bf38"/>
<circle cx="630.45" cy="62.08" r="2.1" fill="#f5bf38"/>
<circle cx="649.15" cy="79.75" r="2.1" fill="#f5bf38"/>
<line x1="392.9" y1="13.5" x2="402.5" y2="13.5" stroke="#1f66b6" stroke-width="1.4"/>
<path d="M398.6 10.37L401.74 13.5L398.6 16.63L395.47 13.5Z" fill="#1f66b6"/>
<text x="405.6" y="16.4" class="t" font-size="9.7" textLength="32.8" lengthAdjust="spacingAndGlyphs">Local0.1</text>
<line x1="392.9" y1="26.8" x2="404.3" y2="26.8" stroke="#e21a22" stroke-width="1.4"/>
<rect x="396.32" y="24.52" width="4.56" height="4.56" rx="1.04" fill="#e21a22"/>
<text x="405.6" y="29.7" class="t" font-size="9.7" textLength="32.8" lengthAdjust="spacingAndGlyphs">Local0.4</text>
<path d="M392.9 40H395.9M401.3 40H404.3" stroke="#1a9f4b" stroke-width="1.4"/>
<path d="M398.6 37.38L400.98 41.75L396.23 41.75Z" fill="#1a9f4b" stroke="#1a9f4b" stroke-width="0.4" stroke-linejoin="round"/>
<text x="405.6" y="42.9" class="t" font-size="9.7" textLength="38.3" lengthAdjust="spacingAndGlyphs">Global0.1</text>
<line x1="392.9" y1="52.9" x2="404.3" y2="52.9" stroke="#f5bf38" stroke-width="1.4"/>
<circle cx="398.6" cy="52.9" r="1.99" fill="#f5bf38"/>
<text x="405.6" y="55.8" class="t" font-size="9.7" textLength="19.7" lengthAdjust="spacingAndGlyphs">BASE</text>
<text x="-0.45" y="259" font-family='"Liberation Serif", serif' font-size="14.8" fill="#1a1a1a" stroke="#1a1a1a" stroke-width="0.35">(</text>
<text x="14.9" y="259" font-family='"Liberation Serif", serif' font-size="14.8" fill="#1a1a1a" stroke="#1a1a1a" stroke-width="0.35">)</text>
<text x="9.55" y="260.6" text-anchor="middle" font-family='"Liberation Serif", serif' font-size="16.5" fill="#111" stroke="#111" stroke-width="0.35" textLength="9.9" lengthAdjust="spacingAndGlyphs">C</text>
<text x="36.2" y="442.2" text-anchor="end" class="t" font-size="9.8" textLength="4.9" lengthAdjust="spacingAndGlyphs">0</text>
<text x="36.2" y="424.61" text-anchor="end" class="t" font-size="9.8" textLength="4.9" lengthAdjust="spacingAndGlyphs">1</text>
<text x="36.2" y="407.02" text-anchor="end" class="t" font-size="9.8" textLength="4.9" lengthAdjust="spacingAndGlyphs">2</text>
<text x="36.2" y="389.43" text-anchor="end" class="t" font-size="9.8" textLength="4.9" lengthAdjust="spacingAndGlyphs">3</text>
<text x="36.2" y="371.84" text-anchor="end" class="t" font-size="9.8" textLength="4.9" lengthAdjust="spacingAndGlyphs">4</text>
<text x="36.2" y="354.26" text-anchor="end" class="t" font-size="9.8" textLength="4.9" lengthAdjust="spacingAndGlyphs">5</text>
<text x="36.2" y="336.67" text-anchor="end" class="t" font-size="9.8" textLength="4.9" lengthAdjust="spacingAndGlyphs">6</text>
<text x="36.2" y="319.08" text-anchor="end" class="t" font-size="9.8" textLength="4.9" lengthAdjust="spacingAndGlyphs">7</text>
<text x="36.2" y="301.49" text-anchor="end" class="t" font-size="9.8" textLength="4.9" lengthAdjust="spacingAndGlyphs">8</text>
<text x="36.2" y="283.9" text-anchor="end" class="t" font-size="9.8" textLength="4.9" lengthAdjust="spacingAndGlyphs">9</text>
<line x1="45.8" y1="439.3" x2="326.4" y2="439.3" stroke="#bfbfbf" stroke-width="1"/>
<text x="55.15" y="455.5" text-anchor="middle" class="t" font-size="9.8" textLength="4.9" lengthAdjust="spacingAndGlyphs">1</text>
<text x="73.86" y="455.5" text-anchor="middle" class="t" font-size="9.8" textLength="4.9" lengthAdjust="spacingAndGlyphs">2</text>
<text x="92.57" y="455.5" text-anchor="middle" class="t" font-size="9.8" textLength="4.9" lengthAdjust="spacingAndGlyphs">3</text>
<text x="111.27" y="455.5" text-anchor="middle" class="t" font-size="9.8" textLength="4.9" lengthAdjust="spacingAndGlyphs">4</text>
<text x="129.98" y="455.5" text-anchor="middle" class="t" font-size="9.8" textLength="4.9" lengthAdjust="spacingAndGlyphs">5</text>
<text x="148.69" y="455.5" text-anchor="middle" class="t" font-size="9.8" textLength="4.9" lengthAdjust="spacingAndGlyphs">6</text>
<text x="167.39" y="455.5" text-anchor="middle" class="t" font-size="9.8" textLength="4.9" lengthAdjust="spacingAndGlyphs">7</text>
<text x="186.1" y="455.5" text-anchor="middle" class="t" font-size="9.8" textLength="4.9" lengthAdjust="spacingAndGlyphs">8</text>
<text x="204.81" y="455.5" text-anchor="middle" class="t" font-size="9.8" textLength="4.9" lengthAdjust="spacingAndGlyphs">9</text>
<text x="223.51" y="455.5" text-anchor="middle" class="t" font-size="9.8" textLength="9.8" lengthAdjust="spacingAndGlyphs">10</text>
<text x="242.22" y="455.5" text-anchor="middle" class="t" font-size="9.8" textLength="9.8" lengthAdjust="spacingAndGlyphs">11</text>
<text x="260.93" y="455.5" text-anchor="middle" class="t" font-size="9.8" textLength="9.8" lengthAdjust="spacingAndGlyphs">12</text>
<text x="279.63" y="455.5" text-anchor="middle" class="t" font-size="9.8" textLength="9.8" lengthAdjust="spacingAndGlyphs">13</text>
<text x="298.34" y="455.5" text-anchor="middle" class="t" font-size="9.8" textLength="9.8" lengthAdjust="spacingAndGlyphs">14</text>
<text x="317.05" y="455.5" text-anchor="middle" class="t" font-size="9.8" textLength="9.8" lengthAdjust="spacingAndGlyphs">15</text>
<text x="186.1" y="470.5" text-anchor="middle" class="t" font-size="10" textLength="30" lengthAdjust="spacingAndGlyphs">Period</text>
<text transform="translate(19.6 362) rotate(-90)" x="0" y="0" text-anchor="middle" class="t" font-size="10" textLength="128.7" lengthAdjust="spacingAndGlyphs">Average amount for reward</text>
<path d="M55.5 369.12V383.19M54.5 369.12H56.5M54.5 383.19H56.5" stroke="#bcbcbc" stroke-width="0.7" fill="none"/>
<path d="M73.5 360.15V374.22M72.5 360.15H74.5M72.5 374.22H74.5" stroke="#bcbcbc" stroke-width="0.7" fill="none"/>
<path d="M92.5 356.63V370.7M91.5 356.63H93.5M91.5 370.7H93.5" stroke="#bcbcbc" stroke-width="0.7" fill="none"/>
<path d="M111.5 355.05V369.12M110.5 355.05H112.5M110.5 369.12H112.5" stroke="#bcbcbc" stroke-width="0.7" fill="none"/>
<path d="M129.5 352.24V366.31M128.5 352.24H130.5M128.5 366.31H130.5" stroke="#bcbcbc" stroke-width="0.7" fill="none"/>
<path d="M148.5 351V365.07M147.5 351H149.5M147.5 365.07H149.5" stroke="#bcbcbc" stroke-width="0.7" fill="none"/>
<path d="M167.5 345.38V359.45M166.5 345.38H168.5M166.5 359.45H168.5" stroke="#bcbcbc" stroke-width="0.7" fill="none"/>
<path d="M186.5 342.56V356.63M185.5 342.56H187.5M185.5 356.63H187.5" stroke="#bcbcbc" stroke-width="0.7" fill="none"/>
<path d="M204.5 337.11V351.18M203.5 337.11H205.5M203.5 351.18H205.5" stroke="#bcbcbc" stroke-width="0.7" fill="none"/>
<path d="M223.5 339.22V353.29M222.5 339.22H224.5M222.5 353.29H224.5" stroke="#bcbcbc" stroke-width="0.7" fill="none"/>
<path d="M242.5 336.23V350.3M241.5 336.23H243.5M241.5 350.3H243.5" stroke="#bcbcbc" stroke-width="0.7" fill="none"/>
<path d="M260.5 334.82V348.89M259.5 334.82H261.5M259.5 348.89H261.5" stroke="#bcbcbc" stroke-width="0.7" fill="none"/>
<path d="M279.5 332.71V346.78M278.5 332.71H280.5M278.5 346.78H280.5" stroke="#bcbcbc" stroke-width="0.7" fill="none"/>
<path d="M298.5 336.23V350.3M297.5 336.23H299.5M297.5 350.3H299.5" stroke="#bcbcbc" stroke-width="0.7" fill="none"/>
<path d="M317.5 387.06V401.13M316.5 387.06H318.5M316.5 401.13H318.5" stroke="#bcbcbc" stroke-width="0.7" fill="none"/>
<path d="M55.5 348.19V360.5M54.5 348.19H56.5M54.5 360.5H56.5" stroke="#bcbcbc" stroke-width="0.7" fill="none"/>
<path d="M73.5 337.46V349.77M72.5 337.46H74.5M72.5 349.77H74.5" stroke="#bcbcbc" stroke-width="0.7" fill="none"/>
<path d="M92.5 332.36V344.67M91.5 332.36H93.5M91.5 344.67H93.5" stroke="#bcbcbc" stroke-width="0.7" fill="none"/>
<path d="M111.5 331.3V343.62M110.5 331.3H112.5M110.5 343.62H112.5" stroke="#bcbcbc" stroke-width="0.7" fill="none"/>
<path d="M129.5 327.43V339.75M128.5 327.43H130.5M128.5 339.75H130.5" stroke="#bcbcbc" stroke-width="0.7" fill="none"/>
<path d="M148.5 328.14V340.45M147.5 328.14H149.5M147.5 340.45H149.5" stroke="#bcbcbc" stroke-width="0.7" fill="none"/>
<path d="M167.5 327.08V339.4M166.5 327.08H168.5M166.5 339.4H168.5" stroke="#bcbcbc" stroke-width="0.7" fill="none"/>
<path d="M186.5 327.96V340.27M185.5 327.96H187.5M185.5 340.27H187.5" stroke="#bcbcbc" stroke-width="0.7" fill="none"/>
<path d="M204.5 328.84V341.15M203.5 328.84H205.5M203.5 341.15H205.5" stroke="#bcbcbc" stroke-width="0.7" fill="none"/>
<path d="M223.5 332.54V344.85M222.5 332.54H224.5M222.5 344.85H224.5" stroke="#bcbcbc" stroke-width="0.7" fill="none"/>
<path d="M242.5 330.6V342.91M241.5 330.6H243.5M241.5 342.91H243.5" stroke="#bcbcbc" stroke-width="0.7" fill="none"/>
<path d="M260.5 330.07V342.39M259.5 330.07H261.5M259.5 342.39H261.5" stroke="#bcbcbc" stroke-width="0.7" fill="none"/>
<path d="M279.5 328.84V341.15M278.5 328.84H280.5M278.5 341.15H280.5" stroke="#bcbcbc" stroke-width="0.7" fill="none"/>
<path d="M298.5 333.94V346.25M297.5 333.94H299.5M297.5 346.25H299.5" stroke="#bcbcbc" stroke-width="0.7" fill="none"/>
<path d="M317.5 391.46V403.77M316.5 391.46H318.5M316.5 403.77H318.5" stroke="#bcbcbc" stroke-width="0.7" fill="none"/>
<path d="M55.5 383.54V399.37M54.5 383.54H56.5M54.5 399.37H56.5" stroke="#bcbcbc" stroke-width="0.7" fill="none"/>
<path d="M73.5 377.04V392.87M72.5 377.04H74.5M72.5 392.87H74.5" stroke="#bcbcbc" stroke-width="0.7" fill="none"/>
<path d="M92.5 372.64V388.47M91.5 372.64H93.5M91.5 388.47H93.5" stroke="#bcbcbc" stroke-width="0.7" fill="none"/>
<path d="M111.5 367.01V382.84M110.5 367.01H112.5M110.5 382.84H112.5" stroke="#bcbcbc" stroke-width="0.7" fill="none"/>
<path d="M129.5 365.07V380.9M128.5 365.07H130.5M128.5 380.9H130.5" stroke="#bcbcbc" stroke-width="0.7" fill="none"/>
<path d="M148.5 365.95V381.78M147.5 365.95H149.5M147.5 381.78H149.5" stroke="#bcbcbc" stroke-width="0.7" fill="none"/>
<path d="M167.5 362.79V378.62M166.5 362.79H168.5M166.5 378.62H168.5" stroke="#bcbcbc" stroke-width="0.7" fill="none"/>
<path d="M186.5 362.79V378.62M185.5 362.79H187.5M185.5 378.62H187.5" stroke="#bcbcbc" stroke-width="0.7" fill="none"/>
<path d="M204.5 361.56V377.39M203.5 361.56H205.5M203.5 377.39H205.5" stroke="#bcbcbc" stroke-width="0.7" fill="none"/>
<path d="M223.5 360.85V376.68M222.5 360.85H224.5M222.5 376.68H224.5" stroke="#bcbcbc" stroke-width="0.7" fill="none"/>
<path d="M242.5 358.04V373.87M241.5 358.04H243.5M241.5 373.87H243.5" stroke="#bcbcbc" stroke-width="0.7" fill="none"/>
<path d="M260.5 358.04V373.87M259.5 358.04H261.5M259.5 373.87H261.5" stroke="#bcbcbc" stroke-width="0.7" fill="none"/>
<path d="M279.5 357.34V373.17M278.5 357.34H280.5M278.5 373.17H280.5" stroke="#bcbcbc" stroke-width="0.7" fill="none"/>
<path d="M298.5 359.62V375.45M297.5 359.62H299.5M297.5 375.45H299.5" stroke="#bcbcbc" stroke-width="0.7" fill="none"/>
<path d="M317.5 394.8V410.63M316.5 394.8H318.5M316.5 410.63H318.5" stroke="#bcbcbc" stroke-width="0.7" fill="none"/>
<path d="M55.5 362.26V379.85M54.5 362.26H56.5M54.5 379.85H56.5" stroke="#bcbcbc" stroke-width="0.7" fill="none"/>
<path d="M73.5 354.87V372.46M72.5 354.87H74.5M72.5 372.46H74.5" stroke="#bcbcbc" stroke-width="0.7" fill="none"/>
<path d="M92.5 345.38V362.96M91.5 345.38H93.5M91.5 362.96H93.5" stroke="#bcbcbc" stroke-width="0.7" fill="none"/>
<path d="M111.5 336.76V354.35M110.5 336.76H112.5M110.5 354.35H112.5" stroke="#bcbcbc" stroke-width="0.7" fill="none"/>
<path d="M129.5 335.35V352.94M128.5 335.35H130.5M128.5 352.94H130.5" stroke="#bcbcbc" stroke-width="0.7" fill="none"/>
<path d="M148.5 334.47V352.06M147.5 334.47H149.5M147.5 352.06H149.5" stroke="#bcbcbc" stroke-width="0.7" fill="none"/>
<path d="M167.5 330.07V347.66M166.5 330.07H168.5M166.5 347.66H168.5" stroke="#bcbcbc" stroke-width="0.7" fill="none"/>
<path d="M186.5 325.32V342.91M185.5 325.32H187.5M185.5 342.91H187.5" stroke="#bcbcbc" stroke-width="0.7" fill="none"/>
<path d="M204.5 325.5V343.09M203.5 325.5H205.5M203.5 343.09H205.5" stroke="#bcbcbc" stroke-width="0.7" fill="none"/>
<path d="M223.5 321.63V339.22M222.5 321.63H224.5M222.5 339.22H224.5" stroke="#bcbcbc" stroke-width="0.7" fill="none"/>
<path d="M242.5 323.92V341.51M241.5 323.92H243.5M241.5 341.51H243.5" stroke="#bcbcbc" stroke-width="0.7" fill="none"/>
<path d="M260.5 324.44V342.03M259.5 324.44H261.5M259.5 342.03H261.5" stroke="#bcbcbc" stroke-width="0.7" fill="none"/>
<path d="M279.5 329.02V346.61M278.5 329.02H280.5M278.5 346.61H280.5" stroke="#bcbcbc" stroke-width="0.7" fill="none"/>
<path d="M298.5 330.25V347.84M297.5 330.25H299.5M297.5 347.84H299.5" stroke="#bcbcbc" stroke-width="0.7" fill="none"/>
<path d="M317.5 355.93V377.39M316.5 355.93H318.5M316.5 377.39H318.5" stroke="#bcbcbc" stroke-width="0.7" fill="none"/>
<polyline points="55.15,376.16 73.86,367.19 92.57,363.67 111.27,362.08 129.98,359.27 148.69,358.04 167.39,352.41 186.1,349.6 204.81,344.14 223.51,346.25 242.22,343.26 260.93,341.86 279.63,339.75 298.34,343.26 317.05,394.1" fill="none" stroke="#1f66b6" stroke-width="1.9" stroke-dasharray="8.5 3.6" stroke-linejoin="round"/>
<path d="M55.15 372.86L58.45 376.16L55.15 379.46L51.85 376.16Z" fill="#1f66b6"/>
<path d="M73.86 363.89L77.16 367.19L73.86 370.49L70.56 367.19Z" fill="#1f66b6"/>
<path d="M92.57 360.37L95.87 363.67L92.57 366.97L89.27 363.67Z" fill="#1f66b6"/>
<path d="M111.27 358.78L114.57 362.08L111.27 365.38L107.97 362.08Z" fill="#1f66b6"/>
<path d="M129.98 355.97L133.28 359.27L129.98 362.57L126.68 359.27Z" fill="#1f66b6"/>
<path d="M148.69 354.74L151.99 358.04L148.69 361.34L145.39 358.04Z" fill="#1f66b6"/>
<path d="M167.39 349.11L170.69 352.41L167.39 355.71L164.09 352.41Z" fill="#1f66b6"/>
<path d="M186.1 346.3L189.4 349.6L186.1 352.9L182.8 349.6Z" fill="#1f66b6"/>
<path d="M204.81 340.84L208.11 344.14L204.81 347.44L201.51 344.14Z" fill="#1f66b6"/>
<path d="M223.51 342.95L226.81 346.25L223.51 349.55L220.21 346.25Z" fill="#1f66b6"/>
<path d="M242.22 339.96L245.52 343.26L242.22 346.56L238.92 343.26Z" fill="#1f66b6"/>
<path d="M260.93 338.56L264.23 341.86L260.93 345.16L257.63 341.86Z" fill="#1f66b6"/>
<path d="M279.63 336.45L282.93 339.75L279.63 343.05L276.33 339.75Z" fill="#1f66b6"/>
<path d="M298.34 339.96L301.64 343.26L298.34 346.56L295.04 343.26Z" fill="#1f66b6"/>
<path d="M317.05 390.8L320.35 394.1L317.05 397.4L313.75 394.1Z" fill="#1f66b6"/>
<polyline points="55.15,354.35 73.86,343.62 92.57,338.52 111.27,337.46 129.98,333.59 148.69,334.29 167.39,333.24 186.1,334.12 204.81,335 223.51,338.69 242.22,336.76 260.93,336.23 279.63,335 298.34,340.1 317.05,397.61" fill="none" stroke="#e21a22" stroke-width="1.7" stroke-linejoin="round"/>
<rect x="52.75" y="351.95" width="4.8" height="4.8" rx="1.1" fill="#e21a22"/>
<rect x="71.46" y="341.22" width="4.8" height="4.8" rx="1.1" fill="#e21a22"/>
<rect x="90.17" y="336.12" width="4.8" height="4.8" rx="1.1" fill="#e21a22"/>
<rect x="108.87" y="335.06" width="4.8" height="4.8" rx="1.1" fill="#e21a22"/>
<rect x="127.58" y="331.19" width="4.8" height="4.8" rx="1.1" fill="#e21a22"/>
<rect x="146.29" y="331.89" width="4.8" height="4.8" rx="1.1" fill="#e21a22"/>
<rect x="164.99" y="330.84" width="4.8" height="4.8" rx="1.1" fill="#e21a22"/>
<rect x="183.7" y="331.72" width="4.8" height="4.8" rx="1.1" fill="#e21a22"/>
<rect x="202.41" y="332.6" width="4.8" height="4.8" rx="1.1" fill="#e21a22"/>
<rect x="221.11" y="336.29" width="4.8" height="4.8" rx="1.1" fill="#e21a22"/>
<rect x="239.82" y="334.36" width="4.8" height="4.8" rx="1.1" fill="#e21a22"/>
<rect x="258.53" y="333.83" width="4.8" height="4.8" rx="1.1" fill="#e21a22"/>
<rect x="277.23" y="332.6" width="4.8" height="4.8" rx="1.1" fill="#e21a22"/>
<rect x="295.94" y="337.7" width="4.8" height="4.8" rx="1.1" fill="#e21a22"/>
<rect x="314.65" y="395.21" width="4.8" height="4.8" rx="1.1" fill="#e21a22"/>
<polyline points="55.15,391.46 73.86,384.95 92.57,380.55 111.27,374.92 129.98,372.99 148.69,373.87 167.39,370.7 186.1,370.7 204.81,369.47 223.51,368.77 242.22,365.95 260.93,365.95 279.63,365.25 298.34,367.54 317.05,402.72" fill="none" stroke="#1a9f4b" stroke-width="1.5" stroke-dasharray="3.3 2.2" stroke-linejoin="round"/>
<path d="M55.15 388.7L57.65 393.3L52.65 393.3Z" fill="#1a9f4b" stroke="#1a9f4b" stroke-width="0.4" stroke-linejoin="round"/>
<path d="M73.86 382.19L76.36 386.79L71.36 386.79Z" fill="#1a9f4b" stroke="#1a9f4b" stroke-width="0.4" stroke-linejoin="round"/>
<path d="M92.57 377.79L95.07 382.39L90.07 382.39Z" fill="#1a9f4b" stroke="#1a9f4b" stroke-width="0.4" stroke-linejoin="round"/>
<path d="M111.27 372.16L113.77 376.76L108.77 376.76Z" fill="#1a9f4b" stroke="#1a9f4b" stroke-width="0.4" stroke-linejoin="round"/>
<path d="M129.98 370.23L132.48 374.83L127.48 374.83Z" fill="#1a9f4b" stroke="#1a9f4b" stroke-width="0.4" stroke-linejoin="round"/>
<path d="M148.69 371.11L151.19 375.71L146.19 375.71Z" fill="#1a9f4b" stroke="#1a9f4b" stroke-width="0.4" stroke-linejoin="round"/>
<path d="M167.39 367.94L169.89 372.54L164.89 372.54Z" fill="#1a9f4b" stroke="#1a9f4b" stroke-width="0.4" stroke-linejoin="round"/>
<path d="M186.1 367.94L188.6 372.54L183.6 372.54Z" fill="#1a9f4b" stroke="#1a9f4b" stroke-width="0.4" stroke-linejoin="round"/>
<path d="M204.81 366.71L207.31 371.31L202.31 371.31Z" fill="#1a9f4b" stroke="#1a9f4b" stroke-width="0.4" stroke-linejoin="round"/>
<path d="M223.51 366.01L226.01 370.61L221.01 370.61Z" fill="#1a9f4b" stroke="#1a9f4b" stroke-width="0.4" stroke-linejoin="round"/>
<path d="M242.22 363.19L244.72 367.79L239.72 367.79Z" fill="#1a9f4b" stroke="#1a9f4b" stroke-width="0.4" stroke-linejoin="round"/>
<path d="M260.93 363.19L263.43 367.79L258.43 367.79Z" fill="#1a9f4b" stroke="#1a9f4b" stroke-width="0.4" stroke-linejoin="round"/>
<path d="M279.63 362.49L282.13 367.09L277.13 367.09Z" fill="#1a9f4b" stroke="#1a9f4b" stroke-width="0.4" stroke-linejoin="round"/>
<path d="M298.34 364.78L300.84 369.38L295.84 369.38Z" fill="#1a9f4b" stroke="#1a9f4b" stroke-width="0.4" stroke-linejoin="round"/>
<path d="M317.05 399.96L319.55 404.56L314.55 404.56Z" fill="#1a9f4b" stroke="#1a9f4b" stroke-width="0.4" stroke-linejoin="round"/>
<polyline points="55.15,371.06 73.86,363.67 92.57,354.17 111.27,345.55 129.98,344.14 148.69,343.26 167.39,338.87 186.1,334.12 204.81,334.29 223.51,330.42 242.22,332.71 260.93,333.24 279.63,337.81 298.34,339.04 317.05,366.66" fill="none" stroke="#f6c443" stroke-width="1.4" stroke-linejoin="round"/>
<circle cx="55.15" cy="371.06" r="2.1" fill="#f5bf38"/>
<circle cx="73.86" cy="363.67" r="2.1" fill="#f5bf38"/>
<circle cx="92.57" cy="354.17" r="2.1" fill="#f5bf38"/>
<circle cx="111.27" cy="345.55" r="2.1" fill="#f5bf38"/>
<circle cx="129.98" cy="344.14" r="2.1" fill="#f5bf38"/>
<circle cx="148.69" cy="343.26" r="2.1" fill="#f5bf38"/>
<circle cx="167.39" cy="338.87" r="2.1" fill="#f5bf38"/>
<circle cx="186.1" cy="334.12" r="2.1" fill="#f5bf38"/>
<circle cx="204.81" cy="334.29" r="2.1" fill="#f5bf38"/>
<circle cx="223.51" cy="330.42" r="2.1" fill="#f5bf38"/>
<circle cx="242.22" cy="332.71" r="2.1" fill="#f5bf38"/>
<circle cx="260.93" cy="333.24" r="2.1" fill="#f5bf38"/>
<circle cx="279.63" cy="337.81" r="2.1" fill="#f5bf38"/>
<circle cx="298.34" cy="339.04" r="2.1" fill="#f5bf38"/>
<circle cx="317.05" cy="366.66" r="2.1" fill="#f5bf38"/>
<line x1="60.5" y1="257.3" x2="70.1" y2="257.3" stroke="#1f66b6" stroke-width="1.4"/>
<path d="M66.2 254.17L69.34 257.3L66.2 260.44L63.07 257.3Z" fill="#1f66b6"/>
<text x="73.2" y="260.2" class="t" font-size="9.7" textLength="32.8" lengthAdjust="spacingAndGlyphs">Local0.1</text>
<line x1="60.5" y1="270.5" x2="71.9" y2="270.5" stroke="#e21a22" stroke-width="1.4"/>
<rect x="63.92" y="268.22" width="4.56" height="4.56" rx="1.04" fill="#e21a22"/>
<text x="73.2" y="273.4" class="t" font-size="9.7" textLength="32.8" lengthAdjust="spacingAndGlyphs">Local0.4</text>
<path d="M60.5 283.7H63.5M68.9 283.7H71.9" stroke="#1a9f4b" stroke-width="1.4"/>
<path d="M66.2 281.08L68.58 285.45L63.83 285.45Z" fill="#1a9f4b" stroke="#1a9f4b" stroke-width="0.4" stroke-linejoin="round"/>
<text x="73.2" y="286.6" class="t" font-size="9.7" textLength="38.3" lengthAdjust="spacingAndGlyphs">Global0.1</text>
<line x1="60.5" y1="296.8" x2="71.9" y2="296.8" stroke="#f5bf38" stroke-width="1.4"/>
<circle cx="66.2" cy="296.8" r="1.99" fill="#f5bf38"/>
<text x="73.2" y="299.7" class="t" font-size="9.7" textLength="19.7" lengthAdjust="spacingAndGlyphs">BASE</text>
<text x="330.35" y="259" font-family='"Liberation Serif", serif' font-size="14.8" fill="#1a1a1a" stroke="#1a1a1a" stroke-width="0.35">(</text>
<text x="346.8" y="259" font-family='"Liberation Serif", serif' font-size="14.8" fill="#1a1a1a" stroke="#1a1a1a" stroke-width="0.35">)</text>
<text x="341.15" y="260" text-anchor="middle" font-family='"Liberation Serif", serif' font-size="16.5" fill="#111" stroke="#111" stroke-width="0.35" textLength="11" lengthAdjust="spacingAndGlyphs">D</text>
<text x="365.8" y="441.1" text-anchor="end" class="t" font-size="9.8" textLength="4.9" lengthAdjust="spacingAndGlyphs">0</text>
<text x="365.8" y="423.48" text-anchor="end" class="t" font-size="9.8" textLength="4.9" lengthAdjust="spacingAndGlyphs">1</text>
<text x="365.8" y="405.86" text-anchor="end" class="t" font-size="9.8" textLength="4.9" lengthAdjust="spacingAndGlyphs">2</text>
<text x="365.8" y="388.23" text-anchor="end" class="t" font-size="9.8" textLength="4.9" lengthAdjust="spacingAndGlyphs">3</text>
<text x="365.8" y="370.61" text-anchor="end" class="t" font-size="9.8" textLength="4.9" lengthAdjust="spacingAndGlyphs">4</text>
<text x="365.8" y="352.99" text-anchor="end" class="t" font-size="9.8" textLength="4.9" lengthAdjust="spacingAndGlyphs">5</text>
<text x="365.8" y="335.37" text-anchor="end" class="t" font-size="9.8" textLength="4.9" lengthAdjust="spacingAndGlyphs">6</text>
<text x="365.8" y="317.74" text-anchor="end" class="t" font-size="9.8" textLength="4.9" lengthAdjust="spacingAndGlyphs">7</text>
<text x="365.8" y="300.12" text-anchor="end" class="t" font-size="9.8" textLength="4.9" lengthAdjust="spacingAndGlyphs">8</text>
<text x="365.8" y="282.5" text-anchor="end" class="t" font-size="9.8" textLength="4.9" lengthAdjust="spacingAndGlyphs">9</text>
<line x1="375.8" y1="438.2" x2="655.8" y2="438.2" stroke="#bfbfbf" stroke-width="1"/>
<text x="385.13" y="454.5" text-anchor="middle" class="t" font-size="9.8" textLength="4.9" lengthAdjust="spacingAndGlyphs">1</text>
<text x="403.8" y="454.5" text-anchor="middle" class="t" font-size="9.8" textLength="4.9" lengthAdjust="spacingAndGlyphs">2</text>
<text x="422.47" y="454.5" text-anchor="middle" class="t" font-size="9.8" textLength="4.9" lengthAdjust="spacingAndGlyphs">3</text>
<text x="441.13" y="454.5" text-anchor="middle" class="t" font-size="9.8" textLength="4.9" lengthAdjust="spacingAndGlyphs">4</text>
<text x="459.8" y="454.5" text-anchor="middle" class="t" font-size="9.8" textLength="4.9" lengthAdjust="spacingAndGlyphs">5</text>
<text x="478.47" y="454.5" text-anchor="middle" class="t" font-size="9.8" textLength="4.9" lengthAdjust="spacingAndGlyphs">6</text>
<text x="497.13" y="454.5" text-anchor="middle" class="t" font-size="9.8" textLength="4.9" lengthAdjust="spacingAndGlyphs">7</text>
<text x="515.8" y="454.5" text-anchor="middle" class="t" font-size="9.8" textLength="4.9" lengthAdjust="spacingAndGlyphs">8</text>
<text x="534.47" y="454.5" text-anchor="middle" class="t" font-size="9.8" textLength="4.9" lengthAdjust="spacingAndGlyphs">9</text>
<text x="553.13" y="454.5" text-anchor="middle" class="t" font-size="9.8" textLength="9.8" lengthAdjust="spacingAndGlyphs">10</text>
<text x="571.8" y="454.5" text-anchor="middle" class="t" font-size="9.8" textLength="9.8" lengthAdjust="spacingAndGlyphs">11</text>
<text x="590.47" y="454.5" text-anchor="middle" class="t" font-size="9.8" textLength="9.8" lengthAdjust="spacingAndGlyphs">12</text>
<text x="609.13" y="454.5" text-anchor="middle" class="t" font-size="9.8" textLength="9.8" lengthAdjust="spacingAndGlyphs">13</text>
<text x="627.8" y="454.5" text-anchor="middle" class="t" font-size="9.8" textLength="9.8" lengthAdjust="spacingAndGlyphs">14</text>
<text x="646.47" y="454.5" text-anchor="middle" class="t" font-size="9.8" textLength="9.8" lengthAdjust="spacingAndGlyphs">15</text>
<text x="515.8" y="470.5" text-anchor="middle" class="t" font-size="10" textLength="30" lengthAdjust="spacingAndGlyphs">Period</text>
<text transform="translate(349.9 354.6) rotate(-90)" x="0" y="0" text-anchor="middle" class="t" font-size="10" textLength="152" lengthAdjust="spacingAndGlyphs">Average amount for punishment</text>
<path d="M385.5 418.11V421.64M384.5 418.11H386.5M384.5 421.64H386.5" stroke="#bcbcbc" stroke-width="0.7" fill="none"/>
<path d="M403.5 419.34V422.87M402.5 419.34H404.5M402.5 422.87H404.5" stroke="#bcbcbc" stroke-width="0.7" fill="none"/>
<path d="M422.5 423.75V427.27M421.5 423.75H423.5M421.5 427.27H423.5" stroke="#bcbcbc" stroke-width="0.7" fill="none"/>
<path d="M441.5 427.63V431.15M440.5 427.63H442.5M440.5 431.15H442.5" stroke="#bcbcbc" stroke-width="0.7" fill="none"/>
<path d="M459.5 428.68V432.21M458.5 428.68H460.5M458.5 432.21H460.5" stroke="#bcbcbc" stroke-width="0.7" fill="none"/>
<path d="M478.5 429.74V433.27M477.5 429.74H479.5M477.5 433.27H479.5" stroke="#bcbcbc" stroke-width="0.7" fill="none"/>
<path d="M497.5 431.86V435.38M496.5 431.86H498.5M496.5 435.38H498.5" stroke="#bcbcbc" stroke-width="0.7" fill="none"/>
<path d="M515.5 432.03V435.56M514.5 432.03H516.5M514.5 435.56H516.5" stroke="#bcbcbc" stroke-width="0.7" fill="none"/>
<path d="M534.5 433.79V437.32M533.5 433.79H535.5M533.5 437.32H535.5" stroke="#bcbcbc" stroke-width="0.7" fill="none"/>
<path d="M553.5 432.56V436.09M552.5 432.56H554.5M552.5 436.09H554.5" stroke="#bcbcbc" stroke-width="0.7" fill="none"/>
<path d="M571.5 430.09V433.62M570.5 430.09H572.5M570.5 433.62H572.5" stroke="#bcbcbc" stroke-width="0.7" fill="none"/>
<path d="M590.5 432.91V436.44M589.5 432.91H591.5M589.5 436.44H591.5" stroke="#bcbcbc" stroke-width="0.7" fill="none"/>
<path d="M609.5 435.56V439.08M608.5 435.56H610.5M608.5 439.08H610.5" stroke="#bcbcbc" stroke-width="0.7" fill="none"/>
<path d="M627.5 434.15V437.67M626.5 434.15H628.5M626.5 437.67H628.5" stroke="#bcbcbc" stroke-width="0.7" fill="none"/>
<path d="M646.5 420.58V424.81M645.5 420.58H647.5M645.5 424.81H647.5" stroke="#bcbcbc" stroke-width="0.7" fill="none"/>
<path d="M385.5 422.34V425.86M384.5 422.34H386.5M384.5 425.86H386.5" stroke="#bcbcbc" stroke-width="0.7" fill="none"/>
<path d="M403.5 426.92V430.45M402.5 426.92H404.5M402.5 430.45H404.5" stroke="#bcbcbc" stroke-width="0.7" fill="none"/>
<path d="M422.5 428.33V431.86M421.5 428.33H423.5M421.5 431.86H423.5" stroke="#bcbcbc" stroke-width="0.7" fill="none"/>
<path d="M441.5 431.15V434.68M440.5 431.15H442.5M440.5 434.68H442.5" stroke="#bcbcbc" stroke-width="0.7" fill="none"/>
<path d="M459.5 431.68V435.2M458.5 431.68H460.5M458.5 435.2H460.5" stroke="#bcbcbc" stroke-width="0.7" fill="none"/>
<path d="M478.5 431.86V435.38M477.5 431.86H479.5M477.5 435.38H479.5" stroke="#bcbcbc" stroke-width="0.7" fill="none"/>
<path d="M497.5 432.91V436.44M496.5 432.91H498.5M496.5 436.44H498.5" stroke="#bcbcbc" stroke-width="0.7" fill="none"/>
<path d="M515.5 432.56V436.09M514.5 432.56H516.5M514.5 436.09H516.5" stroke="#bcbcbc" stroke-width="0.7" fill="none"/>
<path d="M534.5 432.56V436.09M533.5 432.56H535.5M533.5 436.09H535.5" stroke="#bcbcbc" stroke-width="0.7" fill="none"/>
<path d="M553.5 432.03V435.56M552.5 432.03H554.5M552.5 435.56H554.5" stroke="#bcbcbc" stroke-width="0.7" fill="none"/>
<path d="M571.5 431.86V435.38M570.5 431.86H572.5M570.5 435.38H572.5" stroke="#bcbcbc" stroke-width="0.7" fill="none"/>
<path d="M590.5 432.91V436.44M589.5 432.91H591.5M589.5 436.44H591.5" stroke="#bcbcbc" stroke-width="0.7" fill="none"/>
<path d="M609.5 433.27V436.79M608.5 433.27H610.5M608.5 436.79H610.5" stroke="#bcbcbc" stroke-width="0.7" fill="none"/>
<path d="M627.5 433.62V437.14M626.5 433.62H628.5M626.5 437.14H628.5" stroke="#bcbcbc" stroke-width="0.7" fill="none"/>
<path d="M646.5 403.13V409.12M645.5 403.13H647.5M645.5 409.12H647.5" stroke="#bcbcbc" stroke-width="0.7" fill="none"/>
<path d="M385.5 411.24V414.76M384.5 411.24H386.5M384.5 414.76H386.5" stroke="#bcbcbc" stroke-width="0.7" fill="none"/>
<path d="M403.5 418.99V422.52M402.5 418.99H404.5M402.5 422.52H404.5" stroke="#bcbcbc" stroke-width="0.7" fill="none"/>
<path d="M422.5 423.4V426.92M421.5 423.4H423.5M421.5 426.92H423.5" stroke="#bcbcbc" stroke-width="0.7" fill="none"/>
<path d="M441.5 420.75V424.28M440.5 420.75H442.5M440.5 424.28H442.5" stroke="#bcbcbc" stroke-width="0.7" fill="none"/>
<path d="M459.5 426.57V430.09M458.5 426.57H460.5M458.5 430.09H460.5" stroke="#bcbcbc" stroke-width="0.7" fill="none"/>
<path d="M478.5 427.1V430.62M477.5 427.1H479.5M477.5 430.62H479.5" stroke="#bcbcbc" stroke-width="0.7" fill="none"/>
<path d="M497.5 427.98V431.5M496.5 427.98H498.5M496.5 431.5H498.5" stroke="#bcbcbc" stroke-width="0.7" fill="none"/>
<path d="M515.5 428.33V431.86M514.5 428.33H516.5M514.5 431.86H516.5" stroke="#bcbcbc" stroke-width="0.7" fill="none"/>
<path d="M534.5 432.91V436.44M533.5 432.91H535.5M533.5 436.44H535.5" stroke="#bcbcbc" stroke-width="0.7" fill="none"/>
<path d="M553.5 432.91V436.44M552.5 432.91H554.5M552.5 436.44H554.5" stroke="#bcbcbc" stroke-width="0.7" fill="none"/>
<path d="M571.5 431.5V435.03M570.5 431.5H572.5M570.5 435.03H572.5" stroke="#bcbcbc" stroke-width="0.7" fill="none"/>
<path d="M590.5 433.09V436.61M589.5 433.09H591.5M589.5 436.61H591.5" stroke="#bcbcbc" stroke-width="0.7" fill="none"/>
<path d="M609.5 433.27V436.79M608.5 433.27H610.5M608.5 436.79H610.5" stroke="#bcbcbc" stroke-width="0.7" fill="none"/>
<path d="M627.5 430.97V434.5M626.5 430.97H628.5M626.5 434.5H628.5" stroke="#bcbcbc" stroke-width="0.7" fill="none"/>
<path d="M646.5 416.52V421.81M645.5 416.52H647.5M645.5 421.81H647.5" stroke="#bcbcbc" stroke-width="0.7" fill="none"/>
<path d="M385.5 419.52V423.04M384.5 419.52H386.5M384.5 423.04H386.5" stroke="#bcbcbc" stroke-width="0.7" fill="none"/>
<path d="M403.5 423.93V427.45M402.5 423.93H404.5M402.5 427.45H404.5" stroke="#bcbcbc" stroke-width="0.7" fill="none"/>
<path d="M422.5 429.21V432.74M421.5 429.21H423.5M421.5 432.74H423.5" stroke="#bcbcbc" stroke-width="0.7" fill="none"/>
<path d="M441.5 432.21V435.73M440.5 432.21H442.5M440.5 435.73H442.5" stroke="#bcbcbc" stroke-width="0.7" fill="none"/>
<path d="M459.5 432.21V435.73M458.5 432.21H460.5M458.5 435.73H460.5" stroke="#bcbcbc" stroke-width="0.7" fill="none"/>
<path d="M478.5 433.44V436.97M477.5 433.44H479.5M477.5 436.97H479.5" stroke="#bcbcbc" stroke-width="0.7" fill="none"/>
<path d="M497.5 432.91V436.44M496.5 432.91H498.5M496.5 436.44H498.5" stroke="#bcbcbc" stroke-width="0.7" fill="none"/>
<path d="M515.5 433.79V437.32M514.5 433.79H516.5M514.5 437.32H516.5" stroke="#bcbcbc" stroke-width="0.7" fill="none"/>
<path d="M534.5 431.86V435.38M533.5 431.86H535.5M533.5 435.38H535.5" stroke="#bcbcbc" stroke-width="0.7" fill="none"/>
<path d="M553.5 432.38V435.91M552.5 432.38H554.5M552.5 435.91H554.5" stroke="#bcbcbc" stroke-width="0.7" fill="none"/>
<path d="M571.5 431.86V435.38M570.5 431.86H572.5M570.5 435.38H572.5" stroke="#bcbcbc" stroke-width="0.7" fill="none"/>
<path d="M590.5 424.63V432.74M589.5 424.63H591.5M589.5 432.74H591.5" stroke="#bcbcbc" stroke-width="0.7" fill="none"/>
<path d="M609.5 430.97V434.5M608.5 430.97H610.5M608.5 434.5H610.5" stroke="#bcbcbc" stroke-width="0.7" fill="none"/>
<path d="M627.5 436.09V439.61M626.5 436.09H628.5M626.5 439.61H628.5" stroke="#bcbcbc" stroke-width="0.7" fill="none"/>
<path d="M646.5 424.98V428.51M645.5 424.98H647.5M645.5 428.51H647.5" stroke="#bcbcbc" stroke-width="0.7" fill="none"/>
<polyline points="385.13,419.87 403.8,421.11 422.47,425.51 441.13,429.39 459.8,430.45 478.47,431.5 497.13,433.62 515.8,433.79 534.47,435.56 553.13,434.32 571.8,431.86 590.47,434.68 609.13,437.32 627.8,435.91 646.47,422.69" fill="none" stroke="#1f66b6" stroke-width="1.9" stroke-dasharray="8.5 3.6" stroke-linejoin="round"/>
<path d="M385.13 416.57L388.43 419.87L385.13 423.17L381.83 419.87Z" fill="#1f66b6"/>
<path d="M403.8 417.81L407.1 421.11L403.8 424.41L400.5 421.11Z" fill="#1f66b6"/>
<path d="M422.47 422.21L425.77 425.51L422.47 428.81L419.17 425.51Z" fill="#1f66b6"/>
<path d="M441.13 426.09L444.43 429.39L441.13 432.69L437.83 429.39Z" fill="#1f66b6"/>
<path d="M459.8 427.15L463.1 430.45L459.8 433.75L456.5 430.45Z" fill="#1f66b6"/>
<path d="M478.47 428.2L481.77 431.5L478.47 434.8L475.17 431.5Z" fill="#1f66b6"/>
<path d="M497.13 430.32L500.43 433.62L497.13 436.92L493.83 433.62Z" fill="#1f66b6"/>
<path d="M515.8 430.49L519.1 433.79L515.8 437.09L512.5 433.79Z" fill="#1f66b6"/>
<path d="M534.47 432.26L537.77 435.56L534.47 438.86L531.17 435.56Z" fill="#1f66b6"/>
<path d="M553.13 431.02L556.43 434.32L553.13 437.62L549.83 434.32Z" fill="#1f66b6"/>
<path d="M571.8 428.56L575.1 431.86L571.8 435.16L568.5 431.86Z" fill="#1f66b6"/>
<path d="M590.47 431.38L593.77 434.68L590.47 437.98L587.17 434.68Z" fill="#1f66b6"/>
<path d="M609.13 434.02L612.43 437.32L609.13 440.62L605.83 437.32Z" fill="#1f66b6"/>
<path d="M627.8 432.61L631.1 435.91L627.8 439.21L624.5 435.91Z" fill="#1f66b6"/>
<path d="M646.47 419.39L649.77 422.69L646.47 425.99L643.17 422.69Z" fill="#1f66b6"/>
<polyline points="385.13,424.1 403.8,428.68 422.47,430.09 441.13,432.91 459.8,433.44 478.47,433.62 497.13,434.68 515.8,434.32 534.47,434.32 553.13,433.79 571.8,433.62 590.47,434.68 609.13,435.03 627.8,435.38 646.47,406.13" fill="none" stroke="#e21a22" stroke-width="1.7" stroke-linejoin="round"/>
<rect x="382.73" y="421.7" width="4.8" height="4.8" rx="1.1" fill="#e21a22"/>
<rect x="401.4" y="426.28" width="4.8" height="4.8" rx="1.1" fill="#e21a22"/>
<rect x="420.07" y="427.69" width="4.8" height="4.8" rx="1.1" fill="#e21a22"/>
<rect x="438.73" y="430.51" width="4.8" height="4.8" rx="1.1" fill="#e21a22"/>
<rect x="457.4" y="431.04" width="4.8" height="4.8" rx="1.1" fill="#e21a22"/>
<rect x="476.07" y="431.22" width="4.8" height="4.8" rx="1.1" fill="#e21a22"/>
<rect x="494.73" y="432.28" width="4.8" height="4.8" rx="1.1" fill="#e21a22"/>
<rect x="513.4" y="431.92" width="4.8" height="4.8" rx="1.1" fill="#e21a22"/>
<rect x="532.07" y="431.92" width="4.8" height="4.8" rx="1.1" fill="#e21a22"/>
<rect x="550.73" y="431.39" width="4.8" height="4.8" rx="1.1" fill="#e21a22"/>
<rect x="569.4" y="431.22" width="4.8" height="4.8" rx="1.1" fill="#e21a22"/>
<rect x="588.07" y="432.28" width="4.8" height="4.8" rx="1.1" fill="#e21a22"/>
<rect x="606.73" y="432.63" width="4.8" height="4.8" rx="1.1" fill="#e21a22"/>
<rect x="625.4" y="432.98" width="4.8" height="4.8" rx="1.1" fill="#e21a22"/>
<rect x="644.07" y="403.73" width="4.8" height="4.8" rx="1.1" fill="#e21a22"/>
<polyline points="385.13,413 403.8,420.75 422.47,425.16 441.13,422.52 459.8,428.33 478.47,428.86 497.13,429.74 515.8,430.09 534.47,434.68 553.13,434.68 571.8,433.27 590.47,434.85 609.13,435.03 627.8,432.74 646.47,419.17" fill="none" stroke="#1a9f4b" stroke-width="1.5" stroke-dasharray="3.3 2.2" stroke-linejoin="round"/>
<path d="M385.13 410.24L387.63 414.84L382.63 414.84Z" fill="#1a9f4b" stroke="#1a9f4b" stroke-width="0.4" stroke-linejoin="round"/>
<path d="M403.8 417.99L406.3 422.59L401.3 422.59Z" fill="#1a9f4b" stroke="#1a9f4b" stroke-width="0.4" stroke-linejoin="round"/>
<path d="M422.47 422.4L424.97 427L419.97 427Z" fill="#1a9f4b" stroke="#1a9f4b" stroke-width="0.4" stroke-linejoin="round"/>
<path d="M441.13 419.76L443.63 424.36L438.63 424.36Z" fill="#1a9f4b" stroke="#1a9f4b" stroke-width="0.4" stroke-linejoin="round"/>
<path d="M459.8 425.57L462.3 430.17L457.3 430.17Z" fill="#1a9f4b" stroke="#1a9f4b" stroke-width="0.4" stroke-linejoin="round"/>
<path d="M478.47 426.1L480.97 430.7L475.97 430.7Z" fill="#1a9f4b" stroke="#1a9f4b" stroke-width="0.4" stroke-linejoin="round"/>
<path d="M497.13 426.98L499.63 431.58L494.63 431.58Z" fill="#1a9f4b" stroke="#1a9f4b" stroke-width="0.4" stroke-linejoin="round"/>
<path d="M515.8 427.33L518.3 431.93L513.3 431.93Z" fill="#1a9f4b" stroke="#1a9f4b" stroke-width="0.4" stroke-linejoin="round"/>
<path d="M534.47 431.92L536.97 436.52L531.97 436.52Z" fill="#1a9f4b" stroke="#1a9f4b" stroke-width="0.4" stroke-linejoin="round"/>
<path d="M553.13 431.92L555.63 436.52L550.63 436.52Z" fill="#1a9f4b" stroke="#1a9f4b" stroke-width="0.4" stroke-linejoin="round"/>
<path d="M571.8 430.51L574.3 435.11L569.3 435.11Z" fill="#1a9f4b" stroke="#1a9f4b" stroke-width="0.4" stroke-linejoin="round"/>
<path d="M590.47 432.09L592.97 436.69L587.97 436.69Z" fill="#1a9f4b" stroke="#1a9f4b" stroke-width="0.4" stroke-linejoin="round"/>
<path d="M609.13 432.27L611.63 436.87L606.63 436.87Z" fill="#1a9f4b" stroke="#1a9f4b" stroke-width="0.4" stroke-linejoin="round"/>
<path d="M627.8 429.98L630.3 434.58L625.3 434.58Z" fill="#1a9f4b" stroke="#1a9f4b" stroke-width="0.4" stroke-linejoin="round"/>
<path d="M646.47 416.41L648.97 421.01L643.97 421.01Z" fill="#1a9f4b" stroke="#1a9f4b" stroke-width="0.4" stroke-linejoin="round"/>
<polyline points="385.13,421.28 403.8,425.69 422.47,430.97 441.13,433.97 459.8,433.97 478.47,435.2 497.13,434.68 515.8,435.56 534.47,433.62 553.13,434.15 571.8,433.62 590.47,428.68 609.13,432.74 627.8,437.85 646.47,426.75" fill="none" stroke="#f6c443" stroke-width="1.4" stroke-linejoin="round"/>
<circle cx="385.13" cy="421.28" r="2.1" fill="#f5bf38"/>
<circle cx="403.8" cy="425.69" r="2.1" fill="#f5bf38"/>
<circle cx="422.47" cy="430.97" r="2.1" fill="#f5bf38"/>
<circle cx="441.13" cy="433.97" r="2.1" fill="#f5bf38"/>
<circle cx="459.8" cy="433.97" r="2.1" fill="#f5bf38"/>
<circle cx="478.47" cy="435.2" r="2.1" fill="#f5bf38"/>
<circle cx="497.13" cy="434.68" r="2.1" fill="#f5bf38"/>
<circle cx="515.8" cy="435.56" r="2.1" fill="#f5bf38"/>
<circle cx="534.47" cy="433.62" r="2.1" fill="#f5bf38"/>
<circle cx="553.13" cy="434.15" r="2.1" fill="#f5bf38"/>
<circle cx="571.8" cy="433.62" r="2.1" fill="#f5bf38"/>
<circle cx="590.47" cy="428.68" r="2.1" fill="#f5bf38"/>
<circle cx="609.13" cy="432.74" r="2.1" fill="#f5bf38"/>
<circle cx="627.8" cy="437.85" r="2.1" fill="#f5bf38"/>
<circle cx="646.47" cy="426.75" r="2.1" fill="#f5bf38"/>
<line x1="390.5" y1="256.5" x2="400.1" y2="256.5" stroke="#1f66b6" stroke-width="1.4"/>
<path d="M396.2 253.37L399.33 256.5L396.2 259.63L393.06 256.5Z" fill="#1f66b6"/>
<text x="403.2" y="259.4" class="t" font-size="9.7" textLength="32.8" lengthAdjust="spacingAndGlyphs">Local0.1</text>
<line x1="390.5" y1="269.4" x2="401.9" y2="269.4" stroke="#e21a22" stroke-width="1.4"/>
<rect x="393.92" y="267.12" width="4.56" height="4.56" rx="1.04" fill="#e21a22"/>
<text x="403.2" y="272.3" class="t" font-size="9.7" textLength="32.8" lengthAdjust="spacingAndGlyphs">Local0.4</text>
<path d="M390.5 282.3H393.5M398.9 282.3H401.9" stroke="#1a9f4b" stroke-width="1.4"/>
<path d="M396.2 279.68L398.57 284.05L393.82 284.05Z" fill="#1a9f4b" stroke="#1a9f4b" stroke-width="0.4" stroke-linejoin="round"/>
<text x="403.2" y="285.2" class="t" font-size="9.7" textLength="38.3" lengthAdjust="spacingAndGlyphs">Global0.1</text>
<line x1="390.5" y1="295.2" x2="401.9" y2="295.2" stroke="#f5bf38" stroke-width="1.4"/>
<circle cx="396.2" cy="295.2" r="1.99" fill="#f5bf38"/>
<text x="403.2" y="298.1" class="t" font-size="9.7" textLength="19.7" lengthAdjust="spacingAndGlyphs">BASE</text>
</svg></body></html>
